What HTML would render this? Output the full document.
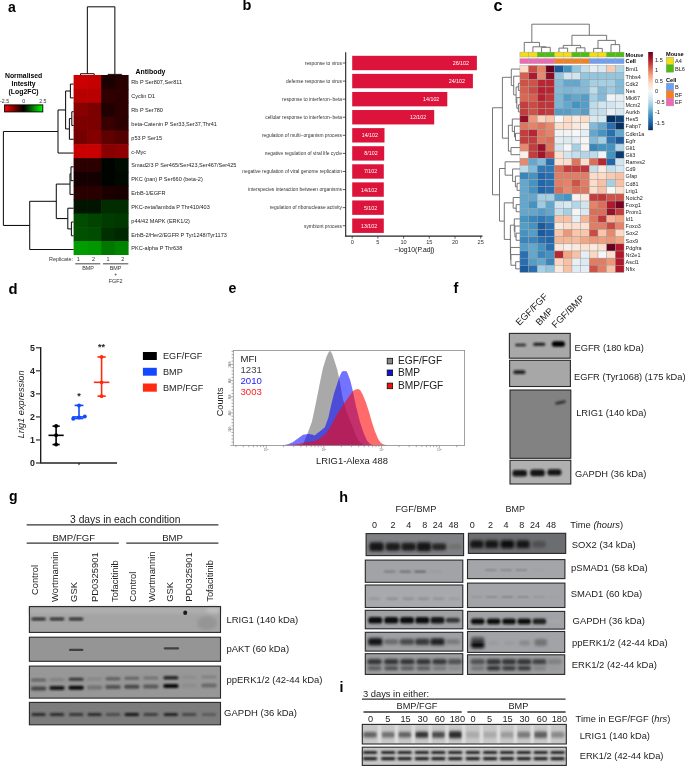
<!DOCTYPE html>
<html><head><meta charset="utf-8"><style>
html,body{margin:0;padding:0;background:#fff;width:685px;height:766px;overflow:hidden}
svg{display:block;will-change:transform}
text{font-family:"Liberation Sans",sans-serif}
</style></head><body>
<svg width="685" height="766" viewBox="0 0 685 766">
<defs>
<filter id="bl1" x="-50%" y="-50%" width="200%" height="200%"><feGaussianBlur stdDeviation="0.9"/></filter>
<filter id="bl2" x="-50%" y="-50%" width="200%" height="200%"><feGaussianBlur stdDeviation="1.5"/></filter>
<filter id="bl05" x="-50%" y="-50%" width="200%" height="200%"><feGaussianBlur stdDeviation="0.55"/></filter>
</defs>
<text x="7.90" y="12.40" font-size="14" text-anchor="start" fill="#000" font-weight="bold" >a</text>
<rect x="73.60" y="75.00" width="14.35" height="14.45" fill="#CC0000" />
<rect x="87.35" y="75.00" width="14.35" height="14.45" fill="#C40000" />
<rect x="101.10" y="75.00" width="14.35" height="14.45" fill="#1A0000" />
<rect x="114.85" y="75.00" width="13.75" height="14.45" fill="#280000" />
<rect x="73.60" y="88.85" width="14.35" height="14.45" fill="#B80000" />
<rect x="87.35" y="88.85" width="14.35" height="14.45" fill="#B80000" />
<rect x="101.10" y="88.85" width="14.35" height="14.45" fill="#300000" />
<rect x="114.85" y="88.85" width="13.75" height="14.45" fill="#2C0000" />
<rect x="73.60" y="102.69" width="14.35" height="14.45" fill="#880000" />
<rect x="87.35" y="102.69" width="14.35" height="14.45" fill="#7C0000" />
<rect x="101.10" y="102.69" width="14.35" height="14.45" fill="#200000" />
<rect x="114.85" y="102.69" width="13.75" height="14.45" fill="#2C0000" />
<rect x="73.60" y="116.54" width="14.35" height="14.45" fill="#7C0000" />
<rect x="87.35" y="116.54" width="14.35" height="14.45" fill="#7C0000" />
<rect x="101.10" y="116.54" width="14.35" height="14.45" fill="#380000" />
<rect x="114.85" y="116.54" width="13.75" height="14.45" fill="#2C0000" />
<rect x="73.60" y="130.38" width="14.35" height="14.45" fill="#740000" />
<rect x="87.35" y="130.38" width="14.35" height="14.45" fill="#840000" />
<rect x="101.10" y="130.38" width="14.35" height="14.45" fill="#600000" />
<rect x="114.85" y="130.38" width="13.75" height="14.45" fill="#540000" />
<rect x="73.60" y="144.23" width="14.35" height="14.45" fill="#C80000" />
<rect x="87.35" y="144.23" width="14.35" height="14.45" fill="#C80000" />
<rect x="101.10" y="144.23" width="14.35" height="14.45" fill="#880000" />
<rect x="114.85" y="144.23" width="13.75" height="14.45" fill="#900000" />
<rect x="73.60" y="158.08" width="14.35" height="14.45" fill="#2C0000" />
<rect x="87.35" y="158.08" width="14.35" height="14.45" fill="#2C0000" />
<rect x="101.10" y="158.08" width="14.35" height="14.45" fill="#000400" />
<rect x="114.85" y="158.08" width="13.75" height="14.45" fill="#000C00" />
<rect x="73.60" y="171.92" width="14.35" height="14.45" fill="#140000" />
<rect x="87.35" y="171.92" width="14.35" height="14.45" fill="#140000" />
<rect x="101.10" y="171.92" width="14.35" height="14.45" fill="#000400" />
<rect x="114.85" y="171.92" width="13.75" height="14.45" fill="#000800" />
<rect x="73.60" y="185.77" width="14.35" height="14.45" fill="#280000" />
<rect x="87.35" y="185.77" width="14.35" height="14.45" fill="#280000" />
<rect x="101.10" y="185.77" width="14.35" height="14.45" fill="#1C0000" />
<rect x="114.85" y="185.77" width="13.75" height="14.45" fill="#180000" />
<rect x="73.60" y="199.62" width="14.35" height="14.45" fill="#001400" />
<rect x="87.35" y="199.62" width="14.35" height="14.45" fill="#001400" />
<rect x="101.10" y="199.62" width="14.35" height="14.45" fill="#002C00" />
<rect x="114.85" y="199.62" width="13.75" height="14.45" fill="#002C00" />
<rect x="73.60" y="213.46" width="14.35" height="14.45" fill="#004C00" />
<rect x="87.35" y="213.46" width="14.35" height="14.45" fill="#004400" />
<rect x="101.10" y="213.46" width="14.35" height="14.45" fill="#003C00" />
<rect x="114.85" y="213.46" width="13.75" height="14.45" fill="#003800" />
<rect x="73.60" y="227.31" width="14.35" height="14.45" fill="#005000" />
<rect x="87.35" y="227.31" width="14.35" height="14.45" fill="#004C00" />
<rect x="101.10" y="227.31" width="14.35" height="14.45" fill="#003000" />
<rect x="114.85" y="227.31" width="13.75" height="14.45" fill="#002800" />
<rect x="73.60" y="241.15" width="14.35" height="13.85" fill="#009C00" />
<rect x="87.35" y="241.15" width="14.35" height="13.85" fill="#009800" />
<rect x="101.10" y="241.15" width="14.35" height="13.85" fill="#007800" />
<rect x="114.85" y="241.15" width="13.75" height="13.85" fill="#008400" />
<text x="131.30" y="84.32" font-size="5.55" text-anchor="start" fill="#222" >Rb P Ser807,Ser811</text>
<text x="131.30" y="98.17" font-size="5.55" text-anchor="start" fill="#222" >Cyclin D1</text>
<text x="131.30" y="112.02" font-size="5.55" text-anchor="start" fill="#222" >Rb P Ser780</text>
<text x="131.30" y="125.86" font-size="5.55" text-anchor="start" fill="#222" >beta-Catenin P Ser33,Ser37,Thr41</text>
<text x="131.30" y="139.71" font-size="5.55" text-anchor="start" fill="#222" >p53 P Ser15</text>
<text x="131.30" y="153.55" font-size="5.55" text-anchor="start" fill="#222" >c-Myc</text>
<text x="131.30" y="167.40" font-size="5.55" text-anchor="start" fill="#222" >Smad2/3 P Ser465/Ser423,Ser467/Ser425</text>
<text x="131.30" y="181.25" font-size="5.55" text-anchor="start" fill="#222" >PKC (pan) P Ser660 (beta-2)</text>
<text x="131.30" y="195.09" font-size="5.55" text-anchor="start" fill="#222" >ErbB-1/EGFR</text>
<text x="131.30" y="208.94" font-size="5.55" text-anchor="start" fill="#222" >PKC-zeta/lambda P Thr410/403</text>
<text x="131.30" y="222.78" font-size="5.55" text-anchor="start" fill="#222" >p44/42 MAPK (ERK1/2)</text>
<text x="131.30" y="236.63" font-size="5.55" text-anchor="start" fill="#222" >ErbB-2/Her2/EGFR P Tyr1248/Tyr1173</text>
<text x="131.30" y="250.48" font-size="5.55" text-anchor="start" fill="#222" >PKC-alpha P Thr638</text>
<text x="135.60" y="73.80" font-size="6.9" text-anchor="start" fill="#000" font-weight="bold" >Antibody</text>
<line x1="70.40" y1="84.10" x2="70.40" y2="97.89" stroke="#111" stroke-width="1.05"/>
<line x1="70.40" y1="84.10" x2="73.60" y2="84.10" stroke="#111" stroke-width="1.05"/>
<line x1="70.40" y1="97.89" x2="73.60" y2="97.89" stroke="#111" stroke-width="1.05"/>
<line x1="71.80" y1="111.68" x2="71.80" y2="125.47" stroke="#111" stroke-width="1.05"/>
<line x1="71.80" y1="111.68" x2="73.60" y2="111.68" stroke="#111" stroke-width="1.05"/>
<line x1="71.80" y1="125.47" x2="73.60" y2="125.47" stroke="#111" stroke-width="1.05"/>
<line x1="69.40" y1="118.57" x2="69.40" y2="139.26" stroke="#111" stroke-width="1.05"/>
<line x1="69.40" y1="118.57" x2="71.80" y2="118.57" stroke="#111" stroke-width="1.05"/>
<line x1="69.40" y1="139.26" x2="73.60" y2="139.26" stroke="#111" stroke-width="1.05"/>
<line x1="65.60" y1="90.99" x2="65.60" y2="128.92" stroke="#111" stroke-width="1.05"/>
<line x1="65.60" y1="90.99" x2="70.40" y2="90.99" stroke="#111" stroke-width="1.05"/>
<line x1="65.60" y1="128.92" x2="69.40" y2="128.92" stroke="#111" stroke-width="1.05"/>
<line x1="58.00" y1="109.96" x2="58.00" y2="153.05" stroke="#111" stroke-width="1.05"/>
<line x1="58.00" y1="109.96" x2="65.60" y2="109.96" stroke="#111" stroke-width="1.05"/>
<line x1="58.00" y1="153.05" x2="73.60" y2="153.05" stroke="#111" stroke-width="1.05"/>
<line x1="71.00" y1="166.84" x2="71.00" y2="180.63" stroke="#111" stroke-width="1.05"/>
<line x1="71.00" y1="166.84" x2="73.60" y2="166.84" stroke="#111" stroke-width="1.05"/>
<line x1="71.00" y1="180.63" x2="73.60" y2="180.63" stroke="#111" stroke-width="1.05"/>
<line x1="70.00" y1="173.73" x2="70.00" y2="194.42" stroke="#111" stroke-width="1.05"/>
<line x1="70.00" y1="173.73" x2="71.00" y2="173.73" stroke="#111" stroke-width="1.05"/>
<line x1="70.00" y1="194.42" x2="73.60" y2="194.42" stroke="#111" stroke-width="1.05"/>
<line x1="71.40" y1="222.00" x2="71.40" y2="235.79" stroke="#111" stroke-width="1.05"/>
<line x1="71.40" y1="222.00" x2="73.60" y2="222.00" stroke="#111" stroke-width="1.05"/>
<line x1="71.40" y1="235.79" x2="73.60" y2="235.79" stroke="#111" stroke-width="1.05"/>
<line x1="67.80" y1="208.21" x2="67.80" y2="228.89" stroke="#111" stroke-width="1.05"/>
<line x1="67.80" y1="208.21" x2="73.60" y2="208.21" stroke="#111" stroke-width="1.05"/>
<line x1="67.80" y1="228.89" x2="71.40" y2="228.89" stroke="#111" stroke-width="1.05"/>
<line x1="56.30" y1="184.08" x2="56.30" y2="218.55" stroke="#111" stroke-width="1.05"/>
<line x1="56.30" y1="184.08" x2="70.00" y2="184.08" stroke="#111" stroke-width="1.05"/>
<line x1="56.30" y1="218.55" x2="67.80" y2="218.55" stroke="#111" stroke-width="1.05"/>
<line x1="29.70" y1="201.31" x2="29.70" y2="249.58" stroke="#111" stroke-width="1.05"/>
<line x1="29.70" y1="201.31" x2="56.30" y2="201.31" stroke="#111" stroke-width="1.05"/>
<line x1="29.70" y1="249.58" x2="73.60" y2="249.58" stroke="#111" stroke-width="1.05"/>
<line x1="3.40" y1="131.50" x2="3.40" y2="225.45" stroke="#111" stroke-width="1.05"/>
<line x1="3.40" y1="131.50" x2="58.00" y2="131.50" stroke="#111" stroke-width="1.05"/>
<line x1="3.40" y1="225.45" x2="29.70" y2="225.45" stroke="#111" stroke-width="1.05"/>
<line x1="80.47" y1="73.70" x2="94.22" y2="73.70" stroke="#111" stroke-width="1.05"/>
<line x1="80.47" y1="73.70" x2="80.47" y2="75.00" stroke="#111" stroke-width="1.05"/>
<line x1="94.22" y1="73.70" x2="94.22" y2="75.00" stroke="#111" stroke-width="1.05"/>
<line x1="107.97" y1="74.40" x2="121.72" y2="74.40" stroke="#111" stroke-width="1.05"/>
<line x1="107.97" y1="74.40" x2="107.97" y2="75.00" stroke="#111" stroke-width="1.05"/>
<line x1="121.72" y1="74.40" x2="121.72" y2="75.00" stroke="#111" stroke-width="1.05"/>
<line x1="87.35" y1="6.80" x2="114.85" y2="6.80" stroke="#111" stroke-width="1.05"/>
<line x1="87.35" y1="6.80" x2="87.35" y2="73.70" stroke="#111" stroke-width="1.05"/>
<line x1="114.85" y1="6.80" x2="114.85" y2="74.40" stroke="#111" stroke-width="1.05"/>
<text x="23.60" y="77.60" font-size="6.85" text-anchor="middle" fill="#000" font-weight="bold" >Normalised</text>
<text x="23.60" y="86.00" font-size="6.85" text-anchor="middle" fill="#000" font-weight="bold" >Intesity</text>
<text x="23.60" y="94.30" font-size="6.85" text-anchor="middle" fill="#000" font-weight="bold" >(Log2FC)</text>
<defs><linearGradient id="rg" x1="0" x2="1" y1="0" y2="0"><stop offset="0" stop-color="#FF0000"/><stop offset="0.5" stop-color="#000000"/><stop offset="1" stop-color="#00FF00"/></linearGradient></defs>
<rect x="4.60" y="104.90" width="38.20" height="7.00" fill="url(#rg)" stroke="#000" stroke-width="0.9" />
<text x="4.60" y="103.20" font-size="5.2" text-anchor="middle" fill="#333" >-2.5</text>
<text x="23.60" y="103.20" font-size="5.2" text-anchor="middle" fill="#333" >0</text>
<text x="42.90" y="103.20" font-size="5.2" text-anchor="middle" fill="#333" >2.5</text>
<text x="73.00" y="261.20" font-size="5.4" text-anchor="end" fill="#333" >Replicate:</text>
<text x="78.30" y="261.20" font-size="5.4" text-anchor="middle" fill="#333" >1</text>
<text x="93.50" y="261.20" font-size="5.4" text-anchor="middle" fill="#333" >2</text>
<text x="107.90" y="261.20" font-size="5.4" text-anchor="middle" fill="#333" >1</text>
<text x="122.80" y="261.20" font-size="5.4" text-anchor="middle" fill="#333" >2</text>
<line x1="75.20" y1="263.80" x2="100.30" y2="263.80" stroke="#555" stroke-width="1.1"/>
<line x1="103.00" y1="263.80" x2="128.30" y2="263.80" stroke="#555" stroke-width="1.1"/>
<text x="88.00" y="270.40" font-size="5.4" text-anchor="middle" fill="#333" >BMP</text>
<text x="115.60" y="270.40" font-size="5.4" text-anchor="middle" fill="#333" >BMP</text>
<text x="115.60" y="276.20" font-size="5.0" text-anchor="middle" fill="#333" >+</text>
<text x="115.60" y="283.00" font-size="5.4" text-anchor="middle" fill="#333" >FGF2</text>
<text x="242.60" y="10.20" font-size="14.5" text-anchor="start" fill="#000" font-weight="bold" >b</text>
<rect x="352.20" y="55.80" width="124.70" height="14.40" fill="#DC143C" />
<text x="468.90" y="65.00" font-size="5.3" text-anchor="end" fill="#fff" >26/102</text>
<text x="342.00" y="64.80" font-size="4.9" text-anchor="end" fill="#333" >response to virus</text>
<line x1="342.70" y1="63.00" x2="345.70" y2="63.00" stroke="#333" stroke-width="0.8"/>
<rect x="352.20" y="73.88" width="120.70" height="14.40" fill="#DC143C" />
<text x="464.90" y="83.08" font-size="5.3" text-anchor="end" fill="#fff" >24/102</text>
<text x="342.00" y="82.88" font-size="4.9" text-anchor="end" fill="#333" >defense response to virus</text>
<line x1="342.70" y1="81.08" x2="345.70" y2="81.08" stroke="#333" stroke-width="0.8"/>
<rect x="352.20" y="91.96" width="95.10" height="14.40" fill="#DC143C" />
<text x="439.30" y="101.16" font-size="5.3" text-anchor="end" fill="#fff" >14/102</text>
<text x="342.00" y="100.96" font-size="4.9" text-anchor="end" fill="#333" >response to interferon−beta</text>
<line x1="342.70" y1="99.16" x2="345.70" y2="99.16" stroke="#333" stroke-width="0.8"/>
<rect x="352.20" y="110.04" width="82.00" height="14.40" fill="#DC143C" />
<text x="426.20" y="119.24" font-size="5.3" text-anchor="end" fill="#fff" >12/102</text>
<text x="342.00" y="119.04" font-size="4.9" text-anchor="end" fill="#333" >cellular response to interferon−beta</text>
<line x1="342.70" y1="117.24" x2="345.70" y2="117.24" stroke="#333" stroke-width="0.8"/>
<rect x="352.20" y="128.12" width="32.30" height="14.40" fill="#DC143C" />
<text x="377.90" y="137.32" font-size="5.3" text-anchor="end" fill="#fff" >14/102</text>
<text x="342.00" y="137.12" font-size="4.9" text-anchor="end" fill="#333" >regulation of multi−organism process</text>
<line x1="342.70" y1="135.32" x2="345.70" y2="135.32" stroke="#333" stroke-width="0.8"/>
<rect x="352.20" y="146.20" width="32.00" height="14.40" fill="#DC143C" />
<text x="377.60" y="155.40" font-size="5.3" text-anchor="end" fill="#fff" >8/102</text>
<text x="342.00" y="155.20" font-size="4.9" text-anchor="end" fill="#333" >negative regulation of viral life cycle</text>
<line x1="342.70" y1="153.40" x2="345.70" y2="153.40" stroke="#333" stroke-width="0.8"/>
<rect x="352.20" y="164.28" width="31.60" height="14.40" fill="#DC143C" />
<text x="377.20" y="173.48" font-size="5.3" text-anchor="end" fill="#fff" >7/102</text>
<text x="342.00" y="173.28" font-size="4.9" text-anchor="end" fill="#333" >negative regulation of viral genome replication</text>
<line x1="342.70" y1="171.48" x2="345.70" y2="171.48" stroke="#333" stroke-width="0.8"/>
<rect x="352.20" y="182.36" width="31.60" height="14.40" fill="#DC143C" />
<text x="377.20" y="191.56" font-size="5.3" text-anchor="end" fill="#fff" >14/102</text>
<text x="342.00" y="191.36" font-size="4.9" text-anchor="end" fill="#333" >interspecies interaction between organisms</text>
<line x1="342.70" y1="189.56" x2="345.70" y2="189.56" stroke="#333" stroke-width="0.8"/>
<rect x="352.20" y="200.44" width="31.60" height="14.40" fill="#DC143C" />
<text x="377.20" y="209.64" font-size="5.3" text-anchor="end" fill="#fff" >5/102</text>
<text x="342.00" y="209.44" font-size="4.9" text-anchor="end" fill="#333" >regulation of ribonuclease activity</text>
<line x1="342.70" y1="207.64" x2="345.70" y2="207.64" stroke="#333" stroke-width="0.8"/>
<rect x="352.20" y="218.52" width="31.60" height="14.40" fill="#DC143C" />
<text x="377.20" y="227.72" font-size="5.3" text-anchor="end" fill="#fff" >13/102</text>
<text x="342.00" y="227.52" font-size="4.9" text-anchor="end" fill="#333" >symbiont process</text>
<line x1="342.70" y1="225.72" x2="345.70" y2="225.72" stroke="#333" stroke-width="0.8"/>
<line x1="345.70" y1="52.30" x2="345.70" y2="236.50" stroke="#222" stroke-width="1.1"/>
<line x1="345.20" y1="236.10" x2="482.50" y2="236.10" stroke="#222" stroke-width="1.1"/>
<line x1="352.20" y1="236.00" x2="352.20" y2="238.60" stroke="#333" stroke-width="0.8"/>
<text x="352.20" y="243.80" font-size="5.6" text-anchor="middle" fill="#333" >0</text>
<line x1="377.90" y1="236.00" x2="377.90" y2="238.60" stroke="#333" stroke-width="0.8"/>
<text x="377.90" y="243.80" font-size="5.6" text-anchor="middle" fill="#333" >5</text>
<line x1="403.60" y1="236.00" x2="403.60" y2="238.60" stroke="#333" stroke-width="0.8"/>
<text x="403.60" y="243.80" font-size="5.6" text-anchor="middle" fill="#333" >10</text>
<line x1="429.30" y1="236.00" x2="429.30" y2="238.60" stroke="#333" stroke-width="0.8"/>
<text x="429.30" y="243.80" font-size="5.6" text-anchor="middle" fill="#333" >15</text>
<line x1="455.00" y1="236.00" x2="455.00" y2="238.60" stroke="#333" stroke-width="0.8"/>
<text x="455.00" y="243.80" font-size="5.6" text-anchor="middle" fill="#333" >20</text>
<line x1="480.70" y1="236.00" x2="480.70" y2="238.60" stroke="#333" stroke-width="0.8"/>
<text x="480.70" y="243.80" font-size="5.6" text-anchor="middle" fill="#333" >25</text>
<text x="414.40" y="251.50" font-size="6.8" text-anchor="middle" fill="#111" >−log10(P.adj)</text>
<text x="493.40" y="11.20" font-size="16.2" text-anchor="start" fill="#000" font-weight="bold" >c</text>
<rect x="519.90" y="52.10" width="8.68" height="4.90" fill="#F3DD14" stroke="#999" stroke-width="0.4" />
<rect x="519.90" y="58.70" width="8.68" height="4.90" fill="#F068B4" stroke="#999" stroke-width="0.4" />
<rect x="528.57" y="52.10" width="8.68" height="4.90" fill="#F3DD14" stroke="#999" stroke-width="0.4" />
<rect x="528.57" y="58.70" width="8.68" height="4.90" fill="#F068B4" stroke="#999" stroke-width="0.4" />
<rect x="537.25" y="52.10" width="8.68" height="4.90" fill="#4DBE0E" stroke="#999" stroke-width="0.4" />
<rect x="537.25" y="58.70" width="8.68" height="4.90" fill="#F068B4" stroke="#999" stroke-width="0.4" />
<rect x="545.92" y="52.10" width="8.68" height="4.90" fill="#4DBE0E" stroke="#999" stroke-width="0.4" />
<rect x="545.92" y="58.70" width="8.68" height="4.90" fill="#F068B4" stroke="#999" stroke-width="0.4" />
<rect x="554.60" y="52.10" width="8.68" height="4.90" fill="#F3DD14" stroke="#999" stroke-width="0.4" />
<rect x="554.60" y="58.70" width="8.68" height="4.90" fill="#F8801C" stroke="#999" stroke-width="0.4" />
<rect x="563.27" y="52.10" width="8.68" height="4.90" fill="#F3DD14" stroke="#999" stroke-width="0.4" />
<rect x="563.27" y="58.70" width="8.68" height="4.90" fill="#F8801C" stroke="#999" stroke-width="0.4" />
<rect x="571.95" y="52.10" width="8.68" height="4.90" fill="#4DBE0E" stroke="#999" stroke-width="0.4" />
<rect x="571.95" y="58.70" width="8.68" height="4.90" fill="#F8801C" stroke="#999" stroke-width="0.4" />
<rect x="580.62" y="52.10" width="8.68" height="4.90" fill="#4DBE0E" stroke="#999" stroke-width="0.4" />
<rect x="580.62" y="58.70" width="8.68" height="4.90" fill="#F8801C" stroke="#999" stroke-width="0.4" />
<rect x="589.30" y="52.10" width="8.68" height="4.90" fill="#F3DD14" stroke="#999" stroke-width="0.4" />
<rect x="589.30" y="58.70" width="8.68" height="4.90" fill="#6E9EF5" stroke="#999" stroke-width="0.4" />
<rect x="597.98" y="52.10" width="8.68" height="4.90" fill="#F3DD14" stroke="#999" stroke-width="0.4" />
<rect x="597.98" y="58.70" width="8.68" height="4.90" fill="#6E9EF5" stroke="#999" stroke-width="0.4" />
<rect x="606.65" y="52.10" width="8.68" height="4.90" fill="#4DBE0E" stroke="#999" stroke-width="0.4" />
<rect x="606.65" y="58.70" width="8.68" height="4.90" fill="#6E9EF5" stroke="#999" stroke-width="0.4" />
<rect x="615.33" y="52.10" width="8.68" height="4.90" fill="#4DBE0E" stroke="#999" stroke-width="0.4" />
<rect x="615.33" y="58.70" width="8.68" height="4.90" fill="#6E9EF5" stroke="#999" stroke-width="0.4" />
<rect x="519.90" y="65.50" width="8.68" height="7.13" fill="#FDDBC7" stroke="#9a9a9a" stroke-width="0.4" />
<rect x="528.57" y="65.50" width="8.68" height="7.13" fill="#CB4A43" stroke="#9a9a9a" stroke-width="0.4" />
<rect x="537.25" y="65.50" width="8.68" height="7.13" fill="#E58268" stroke="#9a9a9a" stroke-width="0.4" />
<rect x="545.92" y="65.50" width="8.68" height="7.13" fill="#67001F" stroke="#9a9a9a" stroke-width="0.4" />
<rect x="554.60" y="65.50" width="8.68" height="7.13" fill="#1B5B9D" stroke="#9a9a9a" stroke-width="0.4" />
<rect x="563.27" y="65.50" width="8.68" height="7.13" fill="#4393C3" stroke="#9a9a9a" stroke-width="0.4" />
<rect x="571.95" y="65.50" width="8.68" height="7.13" fill="#92C5DE" stroke="#9a9a9a" stroke-width="0.4" />
<rect x="580.62" y="65.50" width="8.68" height="7.13" fill="#C4DFEC" stroke="#9a9a9a" stroke-width="0.4" />
<rect x="589.30" y="65.50" width="8.68" height="7.13" fill="#E4EEF4" stroke="#9a9a9a" stroke-width="0.4" />
<rect x="597.98" y="65.50" width="8.68" height="7.13" fill="#D9E9F1" stroke="#9a9a9a" stroke-width="0.4" />
<rect x="606.65" y="65.50" width="8.68" height="7.13" fill="#FACBB2" stroke="#9a9a9a" stroke-width="0.4" />
<rect x="615.33" y="65.50" width="8.68" height="7.13" fill="#B2D5E7" stroke="#9a9a9a" stroke-width="0.4" />
<rect x="519.90" y="72.64" width="8.68" height="7.13" fill="#D6604D" stroke="#9a9a9a" stroke-width="0.4" />
<rect x="528.57" y="72.64" width="8.68" height="7.13" fill="#B2182B" stroke="#9a9a9a" stroke-width="0.4" />
<rect x="537.25" y="72.64" width="8.68" height="7.13" fill="#E8896D" stroke="#9a9a9a" stroke-width="0.4" />
<rect x="545.92" y="72.64" width="8.68" height="7.13" fill="#8C0C25" stroke="#9a9a9a" stroke-width="0.4" />
<rect x="554.60" y="72.64" width="8.68" height="7.13" fill="#92C5DE" stroke="#9a9a9a" stroke-width="0.4" />
<rect x="563.27" y="72.64" width="8.68" height="7.13" fill="#D1E5F0" stroke="#9a9a9a" stroke-width="0.4" />
<rect x="571.95" y="72.64" width="8.68" height="7.13" fill="#D1E5F0" stroke="#9a9a9a" stroke-width="0.4" />
<rect x="580.62" y="72.64" width="8.68" height="7.13" fill="#92C5DE" stroke="#9a9a9a" stroke-width="0.4" />
<rect x="589.30" y="72.64" width="8.68" height="7.13" fill="#92C5DE" stroke="#9a9a9a" stroke-width="0.4" />
<rect x="597.98" y="72.64" width="8.68" height="7.13" fill="#92C5DE" stroke="#9a9a9a" stroke-width="0.4" />
<rect x="606.65" y="72.64" width="8.68" height="7.13" fill="#92C5DE" stroke="#9a9a9a" stroke-width="0.4" />
<rect x="615.33" y="72.64" width="8.68" height="7.13" fill="#92C5DE" stroke="#9a9a9a" stroke-width="0.4" />
<rect x="519.90" y="79.77" width="8.68" height="7.13" fill="#CF5246" stroke="#9a9a9a" stroke-width="0.4" />
<rect x="528.57" y="79.77" width="8.68" height="7.13" fill="#CF5246" stroke="#9a9a9a" stroke-width="0.4" />
<rect x="537.25" y="79.77" width="8.68" height="7.13" fill="#B92632" stroke="#9a9a9a" stroke-width="0.4" />
<rect x="545.92" y="79.77" width="8.68" height="7.13" fill="#B92632" stroke="#9a9a9a" stroke-width="0.4" />
<rect x="554.60" y="79.77" width="8.68" height="7.13" fill="#82BBD9" stroke="#9a9a9a" stroke-width="0.4" />
<rect x="563.27" y="79.77" width="8.68" height="7.13" fill="#63A7CE" stroke="#9a9a9a" stroke-width="0.4" />
<rect x="571.95" y="79.77" width="8.68" height="7.13" fill="#63A7CE" stroke="#9a9a9a" stroke-width="0.4" />
<rect x="580.62" y="79.77" width="8.68" height="7.13" fill="#82BBD9" stroke="#9a9a9a" stroke-width="0.4" />
<rect x="589.30" y="79.77" width="8.68" height="7.13" fill="#A5CFE3" stroke="#9a9a9a" stroke-width="0.4" />
<rect x="597.98" y="79.77" width="8.68" height="7.13" fill="#A5CFE3" stroke="#9a9a9a" stroke-width="0.4" />
<rect x="606.65" y="79.77" width="8.68" height="7.13" fill="#A5CFE3" stroke="#9a9a9a" stroke-width="0.4" />
<rect x="615.33" y="79.77" width="8.68" height="7.13" fill="#82BBD9" stroke="#9a9a9a" stroke-width="0.4" />
<rect x="519.90" y="86.91" width="8.68" height="7.13" fill="#D6604D" stroke="#9a9a9a" stroke-width="0.4" />
<rect x="528.57" y="86.91" width="8.68" height="7.13" fill="#CB4A43" stroke="#9a9a9a" stroke-width="0.4" />
<rect x="537.25" y="86.91" width="8.68" height="7.13" fill="#B61F2E" stroke="#9a9a9a" stroke-width="0.4" />
<rect x="545.92" y="86.91" width="8.68" height="7.13" fill="#B92632" stroke="#9a9a9a" stroke-width="0.4" />
<rect x="554.60" y="86.91" width="8.68" height="7.13" fill="#82BBD9" stroke="#9a9a9a" stroke-width="0.4" />
<rect x="563.27" y="86.91" width="8.68" height="7.13" fill="#7AB6D6" stroke="#9a9a9a" stroke-width="0.4" />
<rect x="571.95" y="86.91" width="8.68" height="7.13" fill="#82BBD9" stroke="#9a9a9a" stroke-width="0.4" />
<rect x="580.62" y="86.91" width="8.68" height="7.13" fill="#82BBD9" stroke="#9a9a9a" stroke-width="0.4" />
<rect x="589.30" y="86.91" width="8.68" height="7.13" fill="#BEDBEB" stroke="#9a9a9a" stroke-width="0.4" />
<rect x="597.98" y="86.91" width="8.68" height="7.13" fill="#82BBD9" stroke="#9a9a9a" stroke-width="0.4" />
<rect x="606.65" y="86.91" width="8.68" height="7.13" fill="#9FCBE2" stroke="#9a9a9a" stroke-width="0.4" />
<rect x="615.33" y="86.91" width="8.68" height="7.13" fill="#82BBD9" stroke="#9a9a9a" stroke-width="0.4" />
<rect x="519.90" y="94.04" width="8.68" height="7.13" fill="#D96752" stroke="#9a9a9a" stroke-width="0.4" />
<rect x="528.57" y="94.04" width="8.68" height="7.13" fill="#D6604D" stroke="#9a9a9a" stroke-width="0.4" />
<rect x="537.25" y="94.04" width="8.68" height="7.13" fill="#B61F2E" stroke="#9a9a9a" stroke-width="0.4" />
<rect x="545.92" y="94.04" width="8.68" height="7.13" fill="#C03539" stroke="#9a9a9a" stroke-width="0.4" />
<rect x="554.60" y="94.04" width="8.68" height="7.13" fill="#7AB6D6" stroke="#9a9a9a" stroke-width="0.4" />
<rect x="563.27" y="94.04" width="8.68" height="7.13" fill="#539DC8" stroke="#9a9a9a" stroke-width="0.4" />
<rect x="571.95" y="94.04" width="8.68" height="7.13" fill="#63A7CE" stroke="#9a9a9a" stroke-width="0.4" />
<rect x="580.62" y="94.04" width="8.68" height="7.13" fill="#539DC8" stroke="#9a9a9a" stroke-width="0.4" />
<rect x="589.30" y="94.04" width="8.68" height="7.13" fill="#A5CFE3" stroke="#9a9a9a" stroke-width="0.4" />
<rect x="597.98" y="94.04" width="8.68" height="7.13" fill="#82BBD9" stroke="#9a9a9a" stroke-width="0.4" />
<rect x="606.65" y="94.04" width="8.68" height="7.13" fill="#EFF3F6" stroke="#9a9a9a" stroke-width="0.4" />
<rect x="615.33" y="94.04" width="8.68" height="7.13" fill="#E4EEF4" stroke="#9a9a9a" stroke-width="0.4" />
<rect x="519.90" y="101.17" width="8.68" height="7.13" fill="#C43C3C" stroke="#9a9a9a" stroke-width="0.4" />
<rect x="528.57" y="101.17" width="8.68" height="7.13" fill="#CB4A43" stroke="#9a9a9a" stroke-width="0.4" />
<rect x="537.25" y="101.17" width="8.68" height="7.13" fill="#C03539" stroke="#9a9a9a" stroke-width="0.4" />
<rect x="545.92" y="101.17" width="8.68" height="7.13" fill="#C03539" stroke="#9a9a9a" stroke-width="0.4" />
<rect x="554.60" y="101.17" width="8.68" height="7.13" fill="#7AB6D6" stroke="#9a9a9a" stroke-width="0.4" />
<rect x="563.27" y="101.17" width="8.68" height="7.13" fill="#63A7CE" stroke="#9a9a9a" stroke-width="0.4" />
<rect x="571.95" y="101.17" width="8.68" height="7.13" fill="#4393C3" stroke="#9a9a9a" stroke-width="0.4" />
<rect x="580.62" y="101.17" width="8.68" height="7.13" fill="#539DC8" stroke="#9a9a9a" stroke-width="0.4" />
<rect x="589.30" y="101.17" width="8.68" height="7.13" fill="#BEDBEB" stroke="#9a9a9a" stroke-width="0.4" />
<rect x="597.98" y="101.17" width="8.68" height="7.13" fill="#D1E5F0" stroke="#9a9a9a" stroke-width="0.4" />
<rect x="606.65" y="101.17" width="8.68" height="7.13" fill="#D1E5F0" stroke="#9a9a9a" stroke-width="0.4" />
<rect x="615.33" y="101.17" width="8.68" height="7.13" fill="#E0ECF3" stroke="#9a9a9a" stroke-width="0.4" />
<rect x="519.90" y="108.31" width="8.68" height="7.13" fill="#C43C3C" stroke="#9a9a9a" stroke-width="0.4" />
<rect x="528.57" y="108.31" width="8.68" height="7.13" fill="#CF5246" stroke="#9a9a9a" stroke-width="0.4" />
<rect x="537.25" y="108.31" width="8.68" height="7.13" fill="#C03539" stroke="#9a9a9a" stroke-width="0.4" />
<rect x="545.92" y="108.31" width="8.68" height="7.13" fill="#C43C3C" stroke="#9a9a9a" stroke-width="0.4" />
<rect x="554.60" y="108.31" width="8.68" height="7.13" fill="#539DC8" stroke="#9a9a9a" stroke-width="0.4" />
<rect x="563.27" y="108.31" width="8.68" height="7.13" fill="#539DC8" stroke="#9a9a9a" stroke-width="0.4" />
<rect x="571.95" y="108.31" width="8.68" height="7.13" fill="#63A7CE" stroke="#9a9a9a" stroke-width="0.4" />
<rect x="580.62" y="108.31" width="8.68" height="7.13" fill="#539DC8" stroke="#9a9a9a" stroke-width="0.4" />
<rect x="589.30" y="108.31" width="8.68" height="7.13" fill="#C4DFEC" stroke="#9a9a9a" stroke-width="0.4" />
<rect x="597.98" y="108.31" width="8.68" height="7.13" fill="#C4DFEC" stroke="#9a9a9a" stroke-width="0.4" />
<rect x="606.65" y="108.31" width="8.68" height="7.13" fill="#E8F0F4" stroke="#9a9a9a" stroke-width="0.4" />
<rect x="615.33" y="108.31" width="8.68" height="7.13" fill="#D5E7F1" stroke="#9a9a9a" stroke-width="0.4" />
<rect x="519.90" y="115.44" width="8.68" height="7.13" fill="#940E26" stroke="#9a9a9a" stroke-width="0.4" />
<rect x="528.57" y="115.44" width="8.68" height="7.13" fill="#EE9777" stroke="#9a9a9a" stroke-width="0.4" />
<rect x="537.25" y="115.44" width="8.68" height="7.13" fill="#FCD6C0" stroke="#9a9a9a" stroke-width="0.4" />
<rect x="545.92" y="115.44" width="8.68" height="7.13" fill="#F9C5AB" stroke="#9a9a9a" stroke-width="0.4" />
<rect x="554.60" y="115.44" width="8.68" height="7.13" fill="#F7F7F7" stroke="#9a9a9a" stroke-width="0.4" />
<rect x="563.27" y="115.44" width="8.68" height="7.13" fill="#FDDBC7" stroke="#9a9a9a" stroke-width="0.4" />
<rect x="571.95" y="115.44" width="8.68" height="7.13" fill="#FAE9DF" stroke="#9a9a9a" stroke-width="0.4" />
<rect x="580.62" y="115.44" width="8.68" height="7.13" fill="#FDDBC7" stroke="#9a9a9a" stroke-width="0.4" />
<rect x="589.30" y="115.44" width="8.68" height="7.13" fill="#D9E9F1" stroke="#9a9a9a" stroke-width="0.4" />
<rect x="597.98" y="115.44" width="8.68" height="7.13" fill="#D9E9F1" stroke="#9a9a9a" stroke-width="0.4" />
<rect x="606.65" y="115.44" width="8.68" height="7.13" fill="#053061" stroke="#9a9a9a" stroke-width="0.4" />
<rect x="615.33" y="115.44" width="8.68" height="7.13" fill="#0D4077" stroke="#9a9a9a" stroke-width="0.4" />
<rect x="519.90" y="122.58" width="8.68" height="7.13" fill="#DF755D" stroke="#9a9a9a" stroke-width="0.4" />
<rect x="528.57" y="122.58" width="8.68" height="7.13" fill="#E58268" stroke="#9a9a9a" stroke-width="0.4" />
<rect x="537.25" y="122.58" width="8.68" height="7.13" fill="#DF755D" stroke="#9a9a9a" stroke-width="0.4" />
<rect x="545.92" y="122.58" width="8.68" height="7.13" fill="#E8896D" stroke="#9a9a9a" stroke-width="0.4" />
<rect x="554.60" y="122.58" width="8.68" height="7.13" fill="#FCDECC" stroke="#9a9a9a" stroke-width="0.4" />
<rect x="563.27" y="122.58" width="8.68" height="7.13" fill="#FDDBC7" stroke="#9a9a9a" stroke-width="0.4" />
<rect x="571.95" y="122.58" width="8.68" height="7.13" fill="#FAE9DF" stroke="#9a9a9a" stroke-width="0.4" />
<rect x="580.62" y="122.58" width="8.68" height="7.13" fill="#F9EFE9" stroke="#9a9a9a" stroke-width="0.4" />
<rect x="589.30" y="122.58" width="8.68" height="7.13" fill="#82BBD9" stroke="#9a9a9a" stroke-width="0.4" />
<rect x="597.98" y="122.58" width="8.68" height="7.13" fill="#63A7CE" stroke="#9a9a9a" stroke-width="0.4" />
<rect x="606.65" y="122.58" width="8.68" height="7.13" fill="#286FB1" stroke="#9a9a9a" stroke-width="0.4" />
<rect x="615.33" y="122.58" width="8.68" height="7.13" fill="#053061" stroke="#9a9a9a" stroke-width="0.4" />
<rect x="519.90" y="129.72" width="8.68" height="7.13" fill="#C43C3C" stroke="#9a9a9a" stroke-width="0.4" />
<rect x="528.57" y="129.72" width="8.68" height="7.13" fill="#B92632" stroke="#9a9a9a" stroke-width="0.4" />
<rect x="537.25" y="129.72" width="8.68" height="7.13" fill="#DF755D" stroke="#9a9a9a" stroke-width="0.4" />
<rect x="545.92" y="129.72" width="8.68" height="7.13" fill="#E58268" stroke="#9a9a9a" stroke-width="0.4" />
<rect x="554.60" y="129.72" width="8.68" height="7.13" fill="#EFF3F6" stroke="#9a9a9a" stroke-width="0.4" />
<rect x="563.27" y="129.72" width="8.68" height="7.13" fill="#EFF3F6" stroke="#9a9a9a" stroke-width="0.4" />
<rect x="571.95" y="129.72" width="8.68" height="7.13" fill="#F7F7F7" stroke="#9a9a9a" stroke-width="0.4" />
<rect x="580.62" y="129.72" width="8.68" height="7.13" fill="#E4EEF4" stroke="#9a9a9a" stroke-width="0.4" />
<rect x="589.30" y="129.72" width="8.68" height="7.13" fill="#63A7CE" stroke="#9a9a9a" stroke-width="0.4" />
<rect x="597.98" y="129.72" width="8.68" height="7.13" fill="#4393C3" stroke="#9a9a9a" stroke-width="0.4" />
<rect x="606.65" y="129.72" width="8.68" height="7.13" fill="#286FB1" stroke="#9a9a9a" stroke-width="0.4" />
<rect x="615.33" y="129.72" width="8.68" height="7.13" fill="#63A7CE" stroke="#9a9a9a" stroke-width="0.4" />
<rect x="519.90" y="136.85" width="8.68" height="7.13" fill="#C43C3C" stroke="#9a9a9a" stroke-width="0.4" />
<rect x="528.57" y="136.85" width="8.68" height="7.13" fill="#C43C3C" stroke="#9a9a9a" stroke-width="0.4" />
<rect x="537.25" y="136.85" width="8.68" height="7.13" fill="#DF755D" stroke="#9a9a9a" stroke-width="0.4" />
<rect x="545.92" y="136.85" width="8.68" height="7.13" fill="#DC6E58" stroke="#9a9a9a" stroke-width="0.4" />
<rect x="554.60" y="136.85" width="8.68" height="7.13" fill="#E4EEF4" stroke="#9a9a9a" stroke-width="0.4" />
<rect x="563.27" y="136.85" width="8.68" height="7.13" fill="#DCEAF2" stroke="#9a9a9a" stroke-width="0.4" />
<rect x="571.95" y="136.85" width="8.68" height="7.13" fill="#E4EEF4" stroke="#9a9a9a" stroke-width="0.4" />
<rect x="580.62" y="136.85" width="8.68" height="7.13" fill="#F3F5F6" stroke="#9a9a9a" stroke-width="0.4" />
<rect x="589.30" y="136.85" width="8.68" height="7.13" fill="#82BBD9" stroke="#9a9a9a" stroke-width="0.4" />
<rect x="597.98" y="136.85" width="8.68" height="7.13" fill="#A5CFE3" stroke="#9a9a9a" stroke-width="0.4" />
<rect x="606.65" y="136.85" width="8.68" height="7.13" fill="#2F78B5" stroke="#9a9a9a" stroke-width="0.4" />
<rect x="615.33" y="136.85" width="8.68" height="7.13" fill="#1B5B9D" stroke="#9a9a9a" stroke-width="0.4" />
<rect x="519.90" y="143.99" width="8.68" height="7.13" fill="#E8896D" stroke="#9a9a9a" stroke-width="0.4" />
<rect x="528.57" y="143.99" width="8.68" height="7.13" fill="#C43C3C" stroke="#9a9a9a" stroke-width="0.4" />
<rect x="537.25" y="143.99" width="8.68" height="7.13" fill="#9B1127" stroke="#9a9a9a" stroke-width="0.4" />
<rect x="545.92" y="143.99" width="8.68" height="7.13" fill="#DF755D" stroke="#9a9a9a" stroke-width="0.4" />
<rect x="554.60" y="143.99" width="8.68" height="7.13" fill="#D5E7F1" stroke="#9a9a9a" stroke-width="0.4" />
<rect x="563.27" y="143.99" width="8.68" height="7.13" fill="#F7F7F7" stroke="#9a9a9a" stroke-width="0.4" />
<rect x="571.95" y="143.99" width="8.68" height="7.13" fill="#A5CFE3" stroke="#9a9a9a" stroke-width="0.4" />
<rect x="580.62" y="143.99" width="8.68" height="7.13" fill="#F8F4F2" stroke="#9a9a9a" stroke-width="0.4" />
<rect x="589.30" y="143.99" width="8.68" height="7.13" fill="#3986BC" stroke="#9a9a9a" stroke-width="0.4" />
<rect x="597.98" y="143.99" width="8.68" height="7.13" fill="#4393C3" stroke="#9a9a9a" stroke-width="0.4" />
<rect x="606.65" y="143.99" width="8.68" height="7.13" fill="#4393C3" stroke="#9a9a9a" stroke-width="0.4" />
<rect x="615.33" y="143.99" width="8.68" height="7.13" fill="#B2D5E7" stroke="#9a9a9a" stroke-width="0.4" />
<rect x="519.90" y="151.12" width="8.68" height="7.13" fill="#F9EFE9" stroke="#9a9a9a" stroke-width="0.4" />
<rect x="528.57" y="151.12" width="8.68" height="7.13" fill="#C43C3C" stroke="#9a9a9a" stroke-width="0.4" />
<rect x="537.25" y="151.12" width="8.68" height="7.13" fill="#A31329" stroke="#9a9a9a" stroke-width="0.4" />
<rect x="545.92" y="151.12" width="8.68" height="7.13" fill="#CB4A43" stroke="#9a9a9a" stroke-width="0.4" />
<rect x="554.60" y="151.12" width="8.68" height="7.13" fill="#FCE1D1" stroke="#9a9a9a" stroke-width="0.4" />
<rect x="563.27" y="151.12" width="8.68" height="7.13" fill="#D1E5F0" stroke="#9a9a9a" stroke-width="0.4" />
<rect x="571.95" y="151.12" width="8.68" height="7.13" fill="#C4DFEC" stroke="#9a9a9a" stroke-width="0.4" />
<rect x="580.62" y="151.12" width="8.68" height="7.13" fill="#B2D5E7" stroke="#9a9a9a" stroke-width="0.4" />
<rect x="589.30" y="151.12" width="8.68" height="7.13" fill="#BEDBEB" stroke="#9a9a9a" stroke-width="0.4" />
<rect x="597.98" y="151.12" width="8.68" height="7.13" fill="#EFF3F6" stroke="#9a9a9a" stroke-width="0.4" />
<rect x="606.65" y="151.12" width="8.68" height="7.13" fill="#4393C3" stroke="#9a9a9a" stroke-width="0.4" />
<rect x="615.33" y="151.12" width="8.68" height="7.13" fill="#0B3B70" stroke="#9a9a9a" stroke-width="0.4" />
<rect x="519.90" y="158.25" width="8.68" height="7.13" fill="#E8896D" stroke="#9a9a9a" stroke-width="0.4" />
<rect x="528.57" y="158.25" width="8.68" height="7.13" fill="#63A7CE" stroke="#9a9a9a" stroke-width="0.4" />
<rect x="537.25" y="158.25" width="8.68" height="7.13" fill="#82BBD9" stroke="#9a9a9a" stroke-width="0.4" />
<rect x="545.92" y="158.25" width="8.68" height="7.13" fill="#286FB1" stroke="#9a9a9a" stroke-width="0.4" />
<rect x="554.60" y="158.25" width="8.68" height="7.13" fill="#FCE1D1" stroke="#9a9a9a" stroke-width="0.4" />
<rect x="563.27" y="158.25" width="8.68" height="7.13" fill="#FCDECC" stroke="#9a9a9a" stroke-width="0.4" />
<rect x="571.95" y="158.25" width="8.68" height="7.13" fill="#DF755D" stroke="#9a9a9a" stroke-width="0.4" />
<rect x="580.62" y="158.25" width="8.68" height="7.13" fill="#FCDECC" stroke="#9a9a9a" stroke-width="0.4" />
<rect x="589.30" y="158.25" width="8.68" height="7.13" fill="#DC6E58" stroke="#9a9a9a" stroke-width="0.4" />
<rect x="597.98" y="158.25" width="8.68" height="7.13" fill="#B92632" stroke="#9a9a9a" stroke-width="0.4" />
<rect x="606.65" y="158.25" width="8.68" height="7.13" fill="#2166AC" stroke="#9a9a9a" stroke-width="0.4" />
<rect x="615.33" y="158.25" width="8.68" height="7.13" fill="#D1E5F0" stroke="#9a9a9a" stroke-width="0.4" />
<rect x="519.90" y="165.39" width="8.68" height="7.13" fill="#BEDBEB" stroke="#9a9a9a" stroke-width="0.4" />
<rect x="528.57" y="165.39" width="8.68" height="7.13" fill="#82BBD9" stroke="#9a9a9a" stroke-width="0.4" />
<rect x="537.25" y="165.39" width="8.68" height="7.13" fill="#2F78B5" stroke="#9a9a9a" stroke-width="0.4" />
<rect x="545.92" y="165.39" width="8.68" height="7.13" fill="#2F78B5" stroke="#9a9a9a" stroke-width="0.4" />
<rect x="554.60" y="165.39" width="8.68" height="7.13" fill="#DC6E58" stroke="#9a9a9a" stroke-width="0.4" />
<rect x="563.27" y="165.39" width="8.68" height="7.13" fill="#C43C3C" stroke="#9a9a9a" stroke-width="0.4" />
<rect x="571.95" y="165.39" width="8.68" height="7.13" fill="#C43C3C" stroke="#9a9a9a" stroke-width="0.4" />
<rect x="580.62" y="165.39" width="8.68" height="7.13" fill="#C03539" stroke="#9a9a9a" stroke-width="0.4" />
<rect x="589.30" y="165.39" width="8.68" height="7.13" fill="#C4DFEC" stroke="#9a9a9a" stroke-width="0.4" />
<rect x="597.98" y="165.39" width="8.68" height="7.13" fill="#FAE9DF" stroke="#9a9a9a" stroke-width="0.4" />
<rect x="606.65" y="165.39" width="8.68" height="7.13" fill="#C4DFEC" stroke="#9a9a9a" stroke-width="0.4" />
<rect x="615.33" y="165.39" width="8.68" height="7.13" fill="#D5E7F1" stroke="#9a9a9a" stroke-width="0.4" />
<rect x="519.90" y="172.52" width="8.68" height="7.13" fill="#3986BC" stroke="#9a9a9a" stroke-width="0.4" />
<rect x="528.57" y="172.52" width="8.68" height="7.13" fill="#4393C3" stroke="#9a9a9a" stroke-width="0.4" />
<rect x="537.25" y="172.52" width="8.68" height="7.13" fill="#2166AC" stroke="#9a9a9a" stroke-width="0.4" />
<rect x="545.92" y="172.52" width="8.68" height="7.13" fill="#286FB1" stroke="#9a9a9a" stroke-width="0.4" />
<rect x="554.60" y="172.52" width="8.68" height="7.13" fill="#E27C62" stroke="#9a9a9a" stroke-width="0.4" />
<rect x="563.27" y="172.52" width="8.68" height="7.13" fill="#E27C62" stroke="#9a9a9a" stroke-width="0.4" />
<rect x="571.95" y="172.52" width="8.68" height="7.13" fill="#E27C62" stroke="#9a9a9a" stroke-width="0.4" />
<rect x="580.62" y="172.52" width="8.68" height="7.13" fill="#E27C62" stroke="#9a9a9a" stroke-width="0.4" />
<rect x="589.30" y="172.52" width="8.68" height="7.13" fill="#FDDBC7" stroke="#9a9a9a" stroke-width="0.4" />
<rect x="597.98" y="172.52" width="8.68" height="7.13" fill="#FDDBC7" stroke="#9a9a9a" stroke-width="0.4" />
<rect x="606.65" y="172.52" width="8.68" height="7.13" fill="#FACBB2" stroke="#9a9a9a" stroke-width="0.4" />
<rect x="615.33" y="172.52" width="8.68" height="7.13" fill="#F8C0A4" stroke="#9a9a9a" stroke-width="0.4" />
<rect x="519.90" y="179.66" width="8.68" height="7.13" fill="#63A7CE" stroke="#9a9a9a" stroke-width="0.4" />
<rect x="528.57" y="179.66" width="8.68" height="7.13" fill="#4393C3" stroke="#9a9a9a" stroke-width="0.4" />
<rect x="537.25" y="179.66" width="8.68" height="7.13" fill="#2166AC" stroke="#9a9a9a" stroke-width="0.4" />
<rect x="545.92" y="179.66" width="8.68" height="7.13" fill="#286FB1" stroke="#9a9a9a" stroke-width="0.4" />
<rect x="554.60" y="179.66" width="8.68" height="7.13" fill="#E27C62" stroke="#9a9a9a" stroke-width="0.4" />
<rect x="563.27" y="179.66" width="8.68" height="7.13" fill="#E58268" stroke="#9a9a9a" stroke-width="0.4" />
<rect x="571.95" y="179.66" width="8.68" height="7.13" fill="#CF5246" stroke="#9a9a9a" stroke-width="0.4" />
<rect x="580.62" y="179.66" width="8.68" height="7.13" fill="#E27C62" stroke="#9a9a9a" stroke-width="0.4" />
<rect x="589.30" y="179.66" width="8.68" height="7.13" fill="#FDDBC7" stroke="#9a9a9a" stroke-width="0.4" />
<rect x="597.98" y="179.66" width="8.68" height="7.13" fill="#F8C0A4" stroke="#9a9a9a" stroke-width="0.4" />
<rect x="606.65" y="179.66" width="8.68" height="7.13" fill="#A5CFE3" stroke="#9a9a9a" stroke-width="0.4" />
<rect x="615.33" y="179.66" width="8.68" height="7.13" fill="#F8C0A4" stroke="#9a9a9a" stroke-width="0.4" />
<rect x="519.90" y="186.80" width="8.68" height="7.13" fill="#63A7CE" stroke="#9a9a9a" stroke-width="0.4" />
<rect x="528.57" y="186.80" width="8.68" height="7.13" fill="#4393C3" stroke="#9a9a9a" stroke-width="0.4" />
<rect x="537.25" y="186.80" width="8.68" height="7.13" fill="#2166AC" stroke="#9a9a9a" stroke-width="0.4" />
<rect x="545.92" y="186.80" width="8.68" height="7.13" fill="#286FB1" stroke="#9a9a9a" stroke-width="0.4" />
<rect x="554.60" y="186.80" width="8.68" height="7.13" fill="#DC6E58" stroke="#9a9a9a" stroke-width="0.4" />
<rect x="563.27" y="186.80" width="8.68" height="7.13" fill="#E8896D" stroke="#9a9a9a" stroke-width="0.4" />
<rect x="571.95" y="186.80" width="8.68" height="7.13" fill="#DC6E58" stroke="#9a9a9a" stroke-width="0.4" />
<rect x="580.62" y="186.80" width="8.68" height="7.13" fill="#DF755D" stroke="#9a9a9a" stroke-width="0.4" />
<rect x="589.30" y="186.80" width="8.68" height="7.13" fill="#FCDECC" stroke="#9a9a9a" stroke-width="0.4" />
<rect x="597.98" y="186.80" width="8.68" height="7.13" fill="#F8C0A4" stroke="#9a9a9a" stroke-width="0.4" />
<rect x="606.65" y="186.80" width="8.68" height="7.13" fill="#F7F7F7" stroke="#9a9a9a" stroke-width="0.4" />
<rect x="615.33" y="186.80" width="8.68" height="7.13" fill="#FCE1D1" stroke="#9a9a9a" stroke-width="0.4" />
<rect x="519.90" y="193.93" width="8.68" height="7.13" fill="#63A7CE" stroke="#9a9a9a" stroke-width="0.4" />
<rect x="528.57" y="193.93" width="8.68" height="7.13" fill="#63A7CE" stroke="#9a9a9a" stroke-width="0.4" />
<rect x="537.25" y="193.93" width="8.68" height="7.13" fill="#A5CFE3" stroke="#9a9a9a" stroke-width="0.4" />
<rect x="545.92" y="193.93" width="8.68" height="7.13" fill="#A5CFE3" stroke="#9a9a9a" stroke-width="0.4" />
<rect x="554.60" y="193.93" width="8.68" height="7.13" fill="#539DC8" stroke="#9a9a9a" stroke-width="0.4" />
<rect x="563.27" y="193.93" width="8.68" height="7.13" fill="#4393C3" stroke="#9a9a9a" stroke-width="0.4" />
<rect x="571.95" y="193.93" width="8.68" height="7.13" fill="#F8F1ED" stroke="#9a9a9a" stroke-width="0.4" />
<rect x="580.62" y="193.93" width="8.68" height="7.13" fill="#FAE9DF" stroke="#9a9a9a" stroke-width="0.4" />
<rect x="589.30" y="193.93" width="8.68" height="7.13" fill="#C43C3C" stroke="#9a9a9a" stroke-width="0.4" />
<rect x="597.98" y="193.93" width="8.68" height="7.13" fill="#C03539" stroke="#9a9a9a" stroke-width="0.4" />
<rect x="606.65" y="193.93" width="8.68" height="7.13" fill="#CF5246" stroke="#9a9a9a" stroke-width="0.4" />
<rect x="615.33" y="193.93" width="8.68" height="7.13" fill="#CF5246" stroke="#9a9a9a" stroke-width="0.4" />
<rect x="519.90" y="201.06" width="8.68" height="7.13" fill="#63A7CE" stroke="#9a9a9a" stroke-width="0.4" />
<rect x="528.57" y="201.06" width="8.68" height="7.13" fill="#4393C3" stroke="#9a9a9a" stroke-width="0.4" />
<rect x="537.25" y="201.06" width="8.68" height="7.13" fill="#9FCBE2" stroke="#9a9a9a" stroke-width="0.4" />
<rect x="545.92" y="201.06" width="8.68" height="7.13" fill="#63A7CE" stroke="#9a9a9a" stroke-width="0.4" />
<rect x="554.60" y="201.06" width="8.68" height="7.13" fill="#D1E5F0" stroke="#9a9a9a" stroke-width="0.4" />
<rect x="563.27" y="201.06" width="8.68" height="7.13" fill="#D9E9F1" stroke="#9a9a9a" stroke-width="0.4" />
<rect x="571.95" y="201.06" width="8.68" height="7.13" fill="#B2D5E7" stroke="#9a9a9a" stroke-width="0.4" />
<rect x="580.62" y="201.06" width="8.68" height="7.13" fill="#D1E5F0" stroke="#9a9a9a" stroke-width="0.4" />
<rect x="589.30" y="201.06" width="8.68" height="7.13" fill="#E58268" stroke="#9a9a9a" stroke-width="0.4" />
<rect x="597.98" y="201.06" width="8.68" height="7.13" fill="#DC6E58" stroke="#9a9a9a" stroke-width="0.4" />
<rect x="606.65" y="201.06" width="8.68" height="7.13" fill="#B2182B" stroke="#9a9a9a" stroke-width="0.4" />
<rect x="615.33" y="201.06" width="8.68" height="7.13" fill="#760521" stroke="#9a9a9a" stroke-width="0.4" />
<rect x="519.90" y="208.20" width="8.68" height="7.13" fill="#63A7CE" stroke="#9a9a9a" stroke-width="0.4" />
<rect x="528.57" y="208.20" width="8.68" height="7.13" fill="#63A7CE" stroke="#9a9a9a" stroke-width="0.4" />
<rect x="537.25" y="208.20" width="8.68" height="7.13" fill="#539DC8" stroke="#9a9a9a" stroke-width="0.4" />
<rect x="545.92" y="208.20" width="8.68" height="7.13" fill="#63A7CE" stroke="#9a9a9a" stroke-width="0.4" />
<rect x="554.60" y="208.20" width="8.68" height="7.13" fill="#C4DFEC" stroke="#9a9a9a" stroke-width="0.4" />
<rect x="563.27" y="208.20" width="8.68" height="7.13" fill="#A5CFE3" stroke="#9a9a9a" stroke-width="0.4" />
<rect x="571.95" y="208.20" width="8.68" height="7.13" fill="#F3F5F6" stroke="#9a9a9a" stroke-width="0.4" />
<rect x="580.62" y="208.20" width="8.68" height="7.13" fill="#D9E9F1" stroke="#9a9a9a" stroke-width="0.4" />
<rect x="589.30" y="208.20" width="8.68" height="7.13" fill="#DC6E58" stroke="#9a9a9a" stroke-width="0.4" />
<rect x="597.98" y="208.20" width="8.68" height="7.13" fill="#DC6E58" stroke="#9a9a9a" stroke-width="0.4" />
<rect x="606.65" y="208.20" width="8.68" height="7.13" fill="#9B1127" stroke="#9a9a9a" stroke-width="0.4" />
<rect x="615.33" y="208.20" width="8.68" height="7.13" fill="#C43C3C" stroke="#9a9a9a" stroke-width="0.4" />
<rect x="519.90" y="215.34" width="8.68" height="7.13" fill="#4393C3" stroke="#9a9a9a" stroke-width="0.4" />
<rect x="528.57" y="215.34" width="8.68" height="7.13" fill="#3986BC" stroke="#9a9a9a" stroke-width="0.4" />
<rect x="537.25" y="215.34" width="8.68" height="7.13" fill="#2F78B5" stroke="#9a9a9a" stroke-width="0.4" />
<rect x="545.92" y="215.34" width="8.68" height="7.13" fill="#3986BC" stroke="#9a9a9a" stroke-width="0.4" />
<rect x="554.60" y="215.34" width="8.68" height="7.13" fill="#F8C0A4" stroke="#9a9a9a" stroke-width="0.4" />
<rect x="563.27" y="215.34" width="8.68" height="7.13" fill="#F8C0A4" stroke="#9a9a9a" stroke-width="0.4" />
<rect x="571.95" y="215.34" width="8.68" height="7.13" fill="#E4EEF4" stroke="#9a9a9a" stroke-width="0.4" />
<rect x="580.62" y="215.34" width="8.68" height="7.13" fill="#F7B597" stroke="#9a9a9a" stroke-width="0.4" />
<rect x="589.30" y="215.34" width="8.68" height="7.13" fill="#DF755D" stroke="#9a9a9a" stroke-width="0.4" />
<rect x="597.98" y="215.34" width="8.68" height="7.13" fill="#C03539" stroke="#9a9a9a" stroke-width="0.4" />
<rect x="606.65" y="215.34" width="8.68" height="7.13" fill="#F7B597" stroke="#9a9a9a" stroke-width="0.4" />
<rect x="615.33" y="215.34" width="8.68" height="7.13" fill="#F4A582" stroke="#9a9a9a" stroke-width="0.4" />
<rect x="519.90" y="222.47" width="8.68" height="7.13" fill="#539DC8" stroke="#9a9a9a" stroke-width="0.4" />
<rect x="528.57" y="222.47" width="8.68" height="7.13" fill="#4393C3" stroke="#9a9a9a" stroke-width="0.4" />
<rect x="537.25" y="222.47" width="8.68" height="7.13" fill="#1B5B9D" stroke="#9a9a9a" stroke-width="0.4" />
<rect x="545.92" y="222.47" width="8.68" height="7.13" fill="#286FB1" stroke="#9a9a9a" stroke-width="0.4" />
<rect x="554.60" y="222.47" width="8.68" height="7.13" fill="#FAE9DF" stroke="#9a9a9a" stroke-width="0.4" />
<rect x="563.27" y="222.47" width="8.68" height="7.13" fill="#FCDECC" stroke="#9a9a9a" stroke-width="0.4" />
<rect x="571.95" y="222.47" width="8.68" height="7.13" fill="#FCE1D1" stroke="#9a9a9a" stroke-width="0.4" />
<rect x="580.62" y="222.47" width="8.68" height="7.13" fill="#FCE1D1" stroke="#9a9a9a" stroke-width="0.4" />
<rect x="589.30" y="222.47" width="8.68" height="7.13" fill="#E27C62" stroke="#9a9a9a" stroke-width="0.4" />
<rect x="597.98" y="222.47" width="8.68" height="7.13" fill="#E27C62" stroke="#9a9a9a" stroke-width="0.4" />
<rect x="606.65" y="222.47" width="8.68" height="7.13" fill="#CB4A43" stroke="#9a9a9a" stroke-width="0.4" />
<rect x="615.33" y="222.47" width="8.68" height="7.13" fill="#E58268" stroke="#9a9a9a" stroke-width="0.4" />
<rect x="519.90" y="229.60" width="8.68" height="7.13" fill="#4393C3" stroke="#9a9a9a" stroke-width="0.4" />
<rect x="528.57" y="229.60" width="8.68" height="7.13" fill="#539DC8" stroke="#9a9a9a" stroke-width="0.4" />
<rect x="537.25" y="229.60" width="8.68" height="7.13" fill="#1B5B9D" stroke="#9a9a9a" stroke-width="0.4" />
<rect x="545.92" y="229.60" width="8.68" height="7.13" fill="#2166AC" stroke="#9a9a9a" stroke-width="0.4" />
<rect x="554.60" y="229.60" width="8.68" height="7.13" fill="#F9C5AB" stroke="#9a9a9a" stroke-width="0.4" />
<rect x="563.27" y="229.60" width="8.68" height="7.13" fill="#EE9777" stroke="#9a9a9a" stroke-width="0.4" />
<rect x="571.95" y="229.60" width="8.68" height="7.13" fill="#F9C5AB" stroke="#9a9a9a" stroke-width="0.4" />
<rect x="580.62" y="229.60" width="8.68" height="7.13" fill="#F9C5AB" stroke="#9a9a9a" stroke-width="0.4" />
<rect x="589.30" y="229.60" width="8.68" height="7.13" fill="#CB4A43" stroke="#9a9a9a" stroke-width="0.4" />
<rect x="597.98" y="229.60" width="8.68" height="7.13" fill="#F9C5AB" stroke="#9a9a9a" stroke-width="0.4" />
<rect x="606.65" y="229.60" width="8.68" height="7.13" fill="#E8896D" stroke="#9a9a9a" stroke-width="0.4" />
<rect x="615.33" y="229.60" width="8.68" height="7.13" fill="#FDDBC7" stroke="#9a9a9a" stroke-width="0.4" />
<rect x="519.90" y="236.74" width="8.68" height="7.13" fill="#3986BC" stroke="#9a9a9a" stroke-width="0.4" />
<rect x="528.57" y="236.74" width="8.68" height="7.13" fill="#3986BC" stroke="#9a9a9a" stroke-width="0.4" />
<rect x="537.25" y="236.74" width="8.68" height="7.13" fill="#286FB1" stroke="#9a9a9a" stroke-width="0.4" />
<rect x="545.92" y="236.74" width="8.68" height="7.13" fill="#2166AC" stroke="#9a9a9a" stroke-width="0.4" />
<rect x="554.60" y="236.74" width="8.68" height="7.13" fill="#F7B597" stroke="#9a9a9a" stroke-width="0.4" />
<rect x="563.27" y="236.74" width="8.68" height="7.13" fill="#F7B597" stroke="#9a9a9a" stroke-width="0.4" />
<rect x="571.95" y="236.74" width="8.68" height="7.13" fill="#F8BB9E" stroke="#9a9a9a" stroke-width="0.4" />
<rect x="580.62" y="236.74" width="8.68" height="7.13" fill="#F4A582" stroke="#9a9a9a" stroke-width="0.4" />
<rect x="589.30" y="236.74" width="8.68" height="7.13" fill="#EE9777" stroke="#9a9a9a" stroke-width="0.4" />
<rect x="597.98" y="236.74" width="8.68" height="7.13" fill="#F19E7D" stroke="#9a9a9a" stroke-width="0.4" />
<rect x="606.65" y="236.74" width="8.68" height="7.13" fill="#EE9777" stroke="#9a9a9a" stroke-width="0.4" />
<rect x="615.33" y="236.74" width="8.68" height="7.13" fill="#F4A582" stroke="#9a9a9a" stroke-width="0.4" />
<rect x="519.90" y="243.88" width="8.68" height="7.13" fill="#539DC8" stroke="#9a9a9a" stroke-width="0.4" />
<rect x="528.57" y="243.88" width="8.68" height="7.13" fill="#63A7CE" stroke="#9a9a9a" stroke-width="0.4" />
<rect x="537.25" y="243.88" width="8.68" height="7.13" fill="#4393C3" stroke="#9a9a9a" stroke-width="0.4" />
<rect x="545.92" y="243.88" width="8.68" height="7.13" fill="#286FB1" stroke="#9a9a9a" stroke-width="0.4" />
<rect x="554.60" y="243.88" width="8.68" height="7.13" fill="#FAE9DF" stroke="#9a9a9a" stroke-width="0.4" />
<rect x="563.27" y="243.88" width="8.68" height="7.13" fill="#F9EFE9" stroke="#9a9a9a" stroke-width="0.4" />
<rect x="571.95" y="243.88" width="8.68" height="7.13" fill="#FAE9DF" stroke="#9a9a9a" stroke-width="0.4" />
<rect x="580.62" y="243.88" width="8.68" height="7.13" fill="#FCE1D1" stroke="#9a9a9a" stroke-width="0.4" />
<rect x="589.30" y="243.88" width="8.68" height="7.13" fill="#FAE9DF" stroke="#9a9a9a" stroke-width="0.4" />
<rect x="597.98" y="243.88" width="8.68" height="7.13" fill="#FCE1D1" stroke="#9a9a9a" stroke-width="0.4" />
<rect x="606.65" y="243.88" width="8.68" height="7.13" fill="#67001F" stroke="#9a9a9a" stroke-width="0.4" />
<rect x="615.33" y="243.88" width="8.68" height="7.13" fill="#B2182B" stroke="#9a9a9a" stroke-width="0.4" />
<rect x="519.90" y="251.01" width="8.68" height="7.13" fill="#286FB1" stroke="#9a9a9a" stroke-width="0.4" />
<rect x="528.57" y="251.01" width="8.68" height="7.13" fill="#63A7CE" stroke="#9a9a9a" stroke-width="0.4" />
<rect x="537.25" y="251.01" width="8.68" height="7.13" fill="#3986BC" stroke="#9a9a9a" stroke-width="0.4" />
<rect x="545.92" y="251.01" width="8.68" height="7.13" fill="#4393C3" stroke="#9a9a9a" stroke-width="0.4" />
<rect x="554.60" y="251.01" width="8.68" height="7.13" fill="#B92632" stroke="#9a9a9a" stroke-width="0.4" />
<rect x="563.27" y="251.01" width="8.68" height="7.13" fill="#F4A582" stroke="#9a9a9a" stroke-width="0.4" />
<rect x="571.95" y="251.01" width="8.68" height="7.13" fill="#F8C0A4" stroke="#9a9a9a" stroke-width="0.4" />
<rect x="580.62" y="251.01" width="8.68" height="7.13" fill="#E4EEF4" stroke="#9a9a9a" stroke-width="0.4" />
<rect x="589.30" y="251.01" width="8.68" height="7.13" fill="#FCD6C0" stroke="#9a9a9a" stroke-width="0.4" />
<rect x="597.98" y="251.01" width="8.68" height="7.13" fill="#F3F5F6" stroke="#9a9a9a" stroke-width="0.4" />
<rect x="606.65" y="251.01" width="8.68" height="7.13" fill="#FCDECC" stroke="#9a9a9a" stroke-width="0.4" />
<rect x="615.33" y="251.01" width="8.68" height="7.13" fill="#B2182B" stroke="#9a9a9a" stroke-width="0.4" />
<rect x="519.90" y="258.14" width="8.68" height="7.13" fill="#286FB1" stroke="#9a9a9a" stroke-width="0.4" />
<rect x="528.57" y="258.14" width="8.68" height="7.13" fill="#539DC8" stroke="#9a9a9a" stroke-width="0.4" />
<rect x="537.25" y="258.14" width="8.68" height="7.13" fill="#63A7CE" stroke="#9a9a9a" stroke-width="0.4" />
<rect x="545.92" y="258.14" width="8.68" height="7.13" fill="#3986BC" stroke="#9a9a9a" stroke-width="0.4" />
<rect x="554.60" y="258.14" width="8.68" height="7.13" fill="#FCD6C0" stroke="#9a9a9a" stroke-width="0.4" />
<rect x="563.27" y="258.14" width="8.68" height="7.13" fill="#F8C0A4" stroke="#9a9a9a" stroke-width="0.4" />
<rect x="571.95" y="258.14" width="8.68" height="7.13" fill="#E8F0F4" stroke="#9a9a9a" stroke-width="0.4" />
<rect x="580.62" y="258.14" width="8.68" height="7.13" fill="#DCEAF2" stroke="#9a9a9a" stroke-width="0.4" />
<rect x="589.30" y="258.14" width="8.68" height="7.13" fill="#E27C62" stroke="#9a9a9a" stroke-width="0.4" />
<rect x="597.98" y="258.14" width="8.68" height="7.13" fill="#E27C62" stroke="#9a9a9a" stroke-width="0.4" />
<rect x="606.65" y="258.14" width="8.68" height="7.13" fill="#EE9777" stroke="#9a9a9a" stroke-width="0.4" />
<rect x="615.33" y="258.14" width="8.68" height="7.13" fill="#B2182B" stroke="#9a9a9a" stroke-width="0.4" />
<rect x="519.90" y="265.28" width="8.68" height="7.13" fill="#1B5B9D" stroke="#9a9a9a" stroke-width="0.4" />
<rect x="528.57" y="265.28" width="8.68" height="7.13" fill="#286FB1" stroke="#9a9a9a" stroke-width="0.4" />
<rect x="537.25" y="265.28" width="8.68" height="7.13" fill="#A5CFE3" stroke="#9a9a9a" stroke-width="0.4" />
<rect x="545.92" y="265.28" width="8.68" height="7.13" fill="#92C5DE" stroke="#9a9a9a" stroke-width="0.4" />
<rect x="554.60" y="265.28" width="8.68" height="7.13" fill="#FAE9DF" stroke="#9a9a9a" stroke-width="0.4" />
<rect x="563.27" y="265.28" width="8.68" height="7.13" fill="#F8C0A4" stroke="#9a9a9a" stroke-width="0.4" />
<rect x="571.95" y="265.28" width="8.68" height="7.13" fill="#E0ECF3" stroke="#9a9a9a" stroke-width="0.4" />
<rect x="580.62" y="265.28" width="8.68" height="7.13" fill="#E4EEF4" stroke="#9a9a9a" stroke-width="0.4" />
<rect x="589.30" y="265.28" width="8.68" height="7.13" fill="#CF5246" stroke="#9a9a9a" stroke-width="0.4" />
<rect x="597.98" y="265.28" width="8.68" height="7.13" fill="#E27C62" stroke="#9a9a9a" stroke-width="0.4" />
<rect x="606.65" y="265.28" width="8.68" height="7.13" fill="#F8C0A4" stroke="#9a9a9a" stroke-width="0.4" />
<rect x="615.33" y="265.28" width="8.68" height="7.13" fill="#B2182B" stroke="#9a9a9a" stroke-width="0.4" />
<text x="625.60" y="71.37" font-size="5.45" text-anchor="start" fill="#222" >Bmi1</text>
<text x="625.60" y="78.50" font-size="5.45" text-anchor="start" fill="#222" >Thbs4</text>
<text x="625.60" y="85.64" font-size="5.45" text-anchor="start" fill="#222" >Cdk2</text>
<text x="625.60" y="92.77" font-size="5.45" text-anchor="start" fill="#222" >Nes</text>
<text x="625.60" y="99.91" font-size="5.45" text-anchor="start" fill="#222" >Mki67</text>
<text x="625.60" y="107.04" font-size="5.45" text-anchor="start" fill="#222" >Mcm2</text>
<text x="625.60" y="114.18" font-size="5.45" text-anchor="start" fill="#222" >Aurkb</text>
<text x="625.60" y="121.31" font-size="5.45" text-anchor="start" fill="#222" >Hes5</text>
<text x="625.60" y="128.45" font-size="5.45" text-anchor="start" fill="#222" >Fabp7</text>
<text x="625.60" y="135.58" font-size="5.45" text-anchor="start" fill="#222" >Cdkn1a</text>
<text x="625.60" y="142.72" font-size="5.45" text-anchor="start" fill="#222" >Egfr</text>
<text x="625.60" y="149.85" font-size="5.45" text-anchor="start" fill="#222" >Gli1</text>
<text x="625.60" y="156.99" font-size="5.45" text-anchor="start" fill="#222" >Gli3</text>
<text x="625.60" y="164.12" font-size="5.45" text-anchor="start" fill="#222" >Rarres2</text>
<text x="625.60" y="171.26" font-size="5.45" text-anchor="start" fill="#222" >Cd9</text>
<text x="625.60" y="178.39" font-size="5.45" text-anchor="start" fill="#222" >Gfap</text>
<text x="625.60" y="185.53" font-size="5.45" text-anchor="start" fill="#222" >Cd81</text>
<text x="625.60" y="192.66" font-size="5.45" text-anchor="start" fill="#222" >Lrig1</text>
<text x="625.60" y="199.80" font-size="5.45" text-anchor="start" fill="#222" >Notch2</text>
<text x="625.60" y="206.93" font-size="5.45" text-anchor="start" fill="#222" >Foxg1</text>
<text x="625.60" y="214.07" font-size="5.45" text-anchor="start" fill="#222" >Prom1</text>
<text x="625.60" y="221.20" font-size="5.45" text-anchor="start" fill="#222" >Id1</text>
<text x="625.60" y="228.34" font-size="5.45" text-anchor="start" fill="#222" >Foxo3</text>
<text x="625.60" y="235.47" font-size="5.45" text-anchor="start" fill="#222" >Sox2</text>
<text x="625.60" y="242.61" font-size="5.45" text-anchor="start" fill="#222" >Sox9</text>
<text x="625.60" y="249.74" font-size="5.45" text-anchor="start" fill="#222" >Pdgfra</text>
<text x="625.60" y="256.88" font-size="5.45" text-anchor="start" fill="#222" >Nr2e1</text>
<text x="625.60" y="264.01" font-size="5.45" text-anchor="start" fill="#222" >Ascl1</text>
<text x="625.60" y="271.15" font-size="5.45" text-anchor="start" fill="#222" >Nfix</text>
<text x="625.60" y="57.00" font-size="5.6" text-anchor="start" fill="#000" font-weight="bold" >Mouse</text>
<text x="625.60" y="63.20" font-size="5.6" text-anchor="start" fill="#000" font-weight="bold" >Cell</text>
<line x1="541.59" y1="47.30" x2="550.26" y2="47.30" stroke="#666" stroke-width="0.9"/>
<line x1="541.59" y1="47.30" x2="541.59" y2="52.00" stroke="#666" stroke-width="0.9"/>
<line x1="550.26" y1="47.30" x2="550.26" y2="52.00" stroke="#666" stroke-width="0.9"/>
<line x1="532.91" y1="46.80" x2="545.92" y2="46.80" stroke="#666" stroke-width="0.9"/>
<line x1="532.91" y1="46.80" x2="532.91" y2="52.00" stroke="#666" stroke-width="0.9"/>
<line x1="545.92" y1="46.80" x2="545.92" y2="47.30" stroke="#666" stroke-width="0.9"/>
<line x1="524.24" y1="42.40" x2="539.42" y2="42.40" stroke="#666" stroke-width="0.9"/>
<line x1="524.24" y1="42.40" x2="524.24" y2="52.00" stroke="#666" stroke-width="0.9"/>
<line x1="539.42" y1="42.40" x2="539.42" y2="46.80" stroke="#666" stroke-width="0.9"/>
<line x1="558.94" y1="48.10" x2="567.61" y2="48.10" stroke="#666" stroke-width="0.9"/>
<line x1="558.94" y1="48.10" x2="558.94" y2="52.00" stroke="#666" stroke-width="0.9"/>
<line x1="567.61" y1="48.10" x2="567.61" y2="52.00" stroke="#666" stroke-width="0.9"/>
<line x1="576.29" y1="47.80" x2="584.96" y2="47.80" stroke="#666" stroke-width="0.9"/>
<line x1="576.29" y1="47.80" x2="576.29" y2="52.00" stroke="#666" stroke-width="0.9"/>
<line x1="584.96" y1="47.80" x2="584.96" y2="52.00" stroke="#666" stroke-width="0.9"/>
<line x1="563.27" y1="45.40" x2="580.62" y2="45.40" stroke="#666" stroke-width="0.9"/>
<line x1="563.27" y1="45.40" x2="563.27" y2="48.10" stroke="#666" stroke-width="0.9"/>
<line x1="580.62" y1="45.40" x2="580.62" y2="47.80" stroke="#666" stroke-width="0.9"/>
<line x1="593.64" y1="48.40" x2="602.31" y2="48.40" stroke="#666" stroke-width="0.9"/>
<line x1="593.64" y1="48.40" x2="593.64" y2="52.00" stroke="#666" stroke-width="0.9"/>
<line x1="602.31" y1="48.40" x2="602.31" y2="52.00" stroke="#666" stroke-width="0.9"/>
<line x1="610.99" y1="44.60" x2="619.66" y2="44.60" stroke="#666" stroke-width="0.9"/>
<line x1="610.99" y1="44.60" x2="610.99" y2="52.00" stroke="#666" stroke-width="0.9"/>
<line x1="619.66" y1="44.60" x2="619.66" y2="52.00" stroke="#666" stroke-width="0.9"/>
<line x1="597.98" y1="40.40" x2="615.33" y2="40.40" stroke="#666" stroke-width="0.9"/>
<line x1="597.98" y1="40.40" x2="597.98" y2="48.40" stroke="#666" stroke-width="0.9"/>
<line x1="615.33" y1="40.40" x2="615.33" y2="44.60" stroke="#666" stroke-width="0.9"/>
<line x1="571.95" y1="35.30" x2="606.65" y2="35.30" stroke="#666" stroke-width="0.9"/>
<line x1="571.95" y1="35.30" x2="571.95" y2="45.40" stroke="#666" stroke-width="0.9"/>
<line x1="606.65" y1="35.30" x2="606.65" y2="40.40" stroke="#666" stroke-width="0.9"/>
<line x1="531.83" y1="24.20" x2="589.30" y2="24.20" stroke="#666" stroke-width="0.9"/>
<line x1="531.83" y1="24.20" x2="531.83" y2="42.40" stroke="#666" stroke-width="0.9"/>
<line x1="589.30" y1="24.20" x2="589.30" y2="35.30" stroke="#666" stroke-width="0.9"/>
<line x1="518.40" y1="83.34" x2="518.40" y2="90.47" stroke="#666" stroke-width="0.9"/>
<line x1="518.40" y1="83.34" x2="519.90" y2="83.34" stroke="#666" stroke-width="0.9"/>
<line x1="518.40" y1="90.47" x2="519.90" y2="90.47" stroke="#666" stroke-width="0.9"/>
<line x1="518.40" y1="104.74" x2="518.40" y2="111.88" stroke="#666" stroke-width="0.9"/>
<line x1="518.40" y1="104.74" x2="519.90" y2="104.74" stroke="#666" stroke-width="0.9"/>
<line x1="518.40" y1="111.88" x2="519.90" y2="111.88" stroke="#666" stroke-width="0.9"/>
<line x1="516.80" y1="97.61" x2="516.80" y2="108.31" stroke="#666" stroke-width="0.9"/>
<line x1="516.80" y1="97.61" x2="519.90" y2="97.61" stroke="#666" stroke-width="0.9"/>
<line x1="516.80" y1="108.31" x2="518.40" y2="108.31" stroke="#666" stroke-width="0.9"/>
<line x1="516.10" y1="86.91" x2="516.10" y2="102.96" stroke="#666" stroke-width="0.9"/>
<line x1="516.10" y1="86.91" x2="518.40" y2="86.91" stroke="#666" stroke-width="0.9"/>
<line x1="516.10" y1="102.96" x2="516.80" y2="102.96" stroke="#666" stroke-width="0.9"/>
<line x1="513.70" y1="76.20" x2="513.70" y2="94.93" stroke="#666" stroke-width="0.9"/>
<line x1="513.70" y1="76.20" x2="519.90" y2="76.20" stroke="#666" stroke-width="0.9"/>
<line x1="513.70" y1="94.93" x2="516.10" y2="94.93" stroke="#666" stroke-width="0.9"/>
<line x1="511.30" y1="69.07" x2="511.30" y2="85.57" stroke="#666" stroke-width="0.9"/>
<line x1="511.30" y1="69.07" x2="519.90" y2="69.07" stroke="#666" stroke-width="0.9"/>
<line x1="511.30" y1="85.57" x2="513.70" y2="85.57" stroke="#666" stroke-width="0.9"/>
<line x1="515.50" y1="133.28" x2="515.50" y2="140.42" stroke="#666" stroke-width="0.9"/>
<line x1="515.50" y1="133.28" x2="519.90" y2="133.28" stroke="#666" stroke-width="0.9"/>
<line x1="515.50" y1="140.42" x2="519.90" y2="140.42" stroke="#666" stroke-width="0.9"/>
<line x1="514.50" y1="126.15" x2="514.50" y2="136.85" stroke="#666" stroke-width="0.9"/>
<line x1="514.50" y1="126.15" x2="519.90" y2="126.15" stroke="#666" stroke-width="0.9"/>
<line x1="514.50" y1="136.85" x2="515.50" y2="136.85" stroke="#666" stroke-width="0.9"/>
<line x1="512.30" y1="119.01" x2="512.30" y2="131.50" stroke="#666" stroke-width="0.9"/>
<line x1="512.30" y1="119.01" x2="519.90" y2="119.01" stroke="#666" stroke-width="0.9"/>
<line x1="512.30" y1="131.50" x2="514.50" y2="131.50" stroke="#666" stroke-width="0.9"/>
<line x1="511.00" y1="147.55" x2="511.00" y2="154.69" stroke="#666" stroke-width="0.9"/>
<line x1="511.00" y1="147.55" x2="519.90" y2="147.55" stroke="#666" stroke-width="0.9"/>
<line x1="511.00" y1="154.69" x2="519.90" y2="154.69" stroke="#666" stroke-width="0.9"/>
<line x1="508.40" y1="125.26" x2="508.40" y2="151.12" stroke="#666" stroke-width="0.9"/>
<line x1="508.40" y1="125.26" x2="512.30" y2="125.26" stroke="#666" stroke-width="0.9"/>
<line x1="508.40" y1="151.12" x2="511.00" y2="151.12" stroke="#666" stroke-width="0.9"/>
<line x1="502.40" y1="77.32" x2="502.40" y2="138.19" stroke="#666" stroke-width="0.9"/>
<line x1="502.40" y1="77.32" x2="511.30" y2="77.32" stroke="#666" stroke-width="0.9"/>
<line x1="502.40" y1="138.19" x2="508.40" y2="138.19" stroke="#666" stroke-width="0.9"/>
<line x1="517.10" y1="183.23" x2="517.10" y2="190.36" stroke="#666" stroke-width="0.9"/>
<line x1="517.10" y1="183.23" x2="519.90" y2="183.23" stroke="#666" stroke-width="0.9"/>
<line x1="517.10" y1="190.36" x2="519.90" y2="190.36" stroke="#666" stroke-width="0.9"/>
<line x1="515.40" y1="176.09" x2="515.40" y2="186.80" stroke="#666" stroke-width="0.9"/>
<line x1="515.40" y1="176.09" x2="519.90" y2="176.09" stroke="#666" stroke-width="0.9"/>
<line x1="515.40" y1="186.80" x2="517.10" y2="186.80" stroke="#666" stroke-width="0.9"/>
<line x1="512.60" y1="168.96" x2="512.60" y2="181.44" stroke="#666" stroke-width="0.9"/>
<line x1="512.60" y1="168.96" x2="519.90" y2="168.96" stroke="#666" stroke-width="0.9"/>
<line x1="512.60" y1="181.44" x2="515.40" y2="181.44" stroke="#666" stroke-width="0.9"/>
<line x1="505.10" y1="161.82" x2="505.10" y2="175.20" stroke="#666" stroke-width="0.9"/>
<line x1="505.10" y1="161.82" x2="519.90" y2="161.82" stroke="#666" stroke-width="0.9"/>
<line x1="505.10" y1="175.20" x2="512.60" y2="175.20" stroke="#666" stroke-width="0.9"/>
<line x1="516.20" y1="204.63" x2="516.20" y2="211.77" stroke="#666" stroke-width="0.9"/>
<line x1="516.20" y1="204.63" x2="519.90" y2="204.63" stroke="#666" stroke-width="0.9"/>
<line x1="516.20" y1="211.77" x2="519.90" y2="211.77" stroke="#666" stroke-width="0.9"/>
<line x1="513.20" y1="197.50" x2="513.20" y2="208.20" stroke="#666" stroke-width="0.9"/>
<line x1="513.20" y1="197.50" x2="519.90" y2="197.50" stroke="#666" stroke-width="0.9"/>
<line x1="513.20" y1="208.20" x2="516.20" y2="208.20" stroke="#666" stroke-width="0.9"/>
<line x1="516.10" y1="233.17" x2="516.10" y2="240.31" stroke="#666" stroke-width="0.9"/>
<line x1="516.10" y1="233.17" x2="519.90" y2="233.17" stroke="#666" stroke-width="0.9"/>
<line x1="516.10" y1="240.31" x2="519.90" y2="240.31" stroke="#666" stroke-width="0.9"/>
<line x1="514.90" y1="226.04" x2="514.90" y2="236.74" stroke="#666" stroke-width="0.9"/>
<line x1="514.90" y1="226.04" x2="519.90" y2="226.04" stroke="#666" stroke-width="0.9"/>
<line x1="514.90" y1="236.74" x2="516.10" y2="236.74" stroke="#666" stroke-width="0.9"/>
<line x1="514.30" y1="218.90" x2="514.30" y2="231.39" stroke="#666" stroke-width="0.9"/>
<line x1="514.30" y1="218.90" x2="519.90" y2="218.90" stroke="#666" stroke-width="0.9"/>
<line x1="514.30" y1="231.39" x2="514.90" y2="231.39" stroke="#666" stroke-width="0.9"/>
<line x1="515.70" y1="261.71" x2="515.70" y2="268.85" stroke="#666" stroke-width="0.9"/>
<line x1="515.70" y1="261.71" x2="519.90" y2="261.71" stroke="#666" stroke-width="0.9"/>
<line x1="515.70" y1="268.85" x2="519.90" y2="268.85" stroke="#666" stroke-width="0.9"/>
<line x1="510.90" y1="254.58" x2="510.90" y2="265.28" stroke="#666" stroke-width="0.9"/>
<line x1="510.90" y1="254.58" x2="519.90" y2="254.58" stroke="#666" stroke-width="0.9"/>
<line x1="510.90" y1="265.28" x2="515.70" y2="265.28" stroke="#666" stroke-width="0.9"/>
<line x1="510.60" y1="247.44" x2="510.60" y2="259.93" stroke="#666" stroke-width="0.9"/>
<line x1="510.60" y1="247.44" x2="519.90" y2="247.44" stroke="#666" stroke-width="0.9"/>
<line x1="510.60" y1="259.93" x2="510.90" y2="259.93" stroke="#666" stroke-width="0.9"/>
<line x1="510.40" y1="225.15" x2="510.40" y2="253.69" stroke="#666" stroke-width="0.9"/>
<line x1="510.40" y1="225.15" x2="514.30" y2="225.15" stroke="#666" stroke-width="0.9"/>
<line x1="510.40" y1="253.69" x2="510.60" y2="253.69" stroke="#666" stroke-width="0.9"/>
<line x1="504.30" y1="202.85" x2="504.30" y2="239.42" stroke="#666" stroke-width="0.9"/>
<line x1="504.30" y1="202.85" x2="513.20" y2="202.85" stroke="#666" stroke-width="0.9"/>
<line x1="504.30" y1="239.42" x2="510.40" y2="239.42" stroke="#666" stroke-width="0.9"/>
<line x1="499.50" y1="168.51" x2="499.50" y2="221.13" stroke="#666" stroke-width="0.9"/>
<line x1="499.50" y1="168.51" x2="505.10" y2="168.51" stroke="#666" stroke-width="0.9"/>
<line x1="499.50" y1="221.13" x2="504.30" y2="221.13" stroke="#666" stroke-width="0.9"/>
<line x1="492.50" y1="107.75" x2="492.50" y2="194.82" stroke="#666" stroke-width="0.9"/>
<line x1="492.50" y1="107.75" x2="502.40" y2="107.75" stroke="#666" stroke-width="0.9"/>
<line x1="492.50" y1="194.82" x2="499.50" y2="194.82" stroke="#666" stroke-width="0.9"/>
<defs><linearGradient id="cb" x1="0" x2="0" y1="0" y2="1"><stop offset="0.00" stop-color="#67001F"/><stop offset="0.10" stop-color="#B2182B"/><stop offset="0.20" stop-color="#D6604D"/><stop offset="0.30" stop-color="#F4A582"/><stop offset="0.40" stop-color="#FDDBC7"/><stop offset="0.50" stop-color="#F7F7F7"/><stop offset="0.60" stop-color="#D1E5F0"/><stop offset="0.70" stop-color="#92C5DE"/><stop offset="0.80" stop-color="#4393C3"/><stop offset="0.90" stop-color="#2166AC"/><stop offset="1.00" stop-color="#053061"/></linearGradient></defs>
<rect x="648.20" y="52.00" width="4.70" height="78.20" fill="url(#cb)" />
<text x="655.00" y="61.90" font-size="5.6" text-anchor="start" fill="#222" >1.5</text>
<text x="655.00" y="72.35" font-size="5.6" text-anchor="start" fill="#222" >1</text>
<text x="655.00" y="82.80" font-size="5.6" text-anchor="start" fill="#222" >0.5</text>
<text x="655.00" y="93.25" font-size="5.6" text-anchor="start" fill="#222" >0</text>
<text x="655.00" y="103.70" font-size="5.6" text-anchor="start" fill="#222" >-0.5</text>
<text x="655.00" y="114.15" font-size="5.6" text-anchor="start" fill="#222" >-1</text>
<text x="655.00" y="124.60" font-size="5.6" text-anchor="start" fill="#222" >-1.5</text>
<text x="666.00" y="55.60" font-size="5.6" text-anchor="start" fill="#000" font-weight="bold" >Mouse</text>
<rect x="666.20" y="57.20" width="7.60" height="7.60" fill="#F3DD14" stroke="#999" stroke-width="0.4" />
<rect x="666.20" y="64.80" width="7.60" height="7.40" fill="#4DBE0E" stroke="#999" stroke-width="0.4" />
<text x="675.00" y="63.00" font-size="5.6" text-anchor="start" fill="#222" >A4</text>
<text x="675.00" y="70.50" font-size="5.6" text-anchor="start" fill="#222" >BL6</text>
<text x="666.00" y="81.90" font-size="5.6" text-anchor="start" fill="#000" font-weight="bold" >Cell</text>
<rect x="666.20" y="83.10" width="7.60" height="7.70" fill="#6E9EF5" stroke="#999" stroke-width="0.4" />
<rect x="666.20" y="90.80" width="7.60" height="7.40" fill="#F8801C" stroke="#999" stroke-width="0.4" />
<rect x="666.20" y="98.20" width="7.60" height="7.70" fill="#F068B4" stroke="#999" stroke-width="0.4" />
<text x="675.00" y="89.00" font-size="5.6" text-anchor="start" fill="#222" >B</text>
<text x="675.00" y="96.50" font-size="5.6" text-anchor="start" fill="#222" >BF</text>
<text x="675.00" y="104.00" font-size="5.6" text-anchor="start" fill="#222" >EF</text>
<text x="8.60" y="293.80" font-size="14.8" text-anchor="start" fill="#000" font-weight="bold" >d</text>
<line x1="40.70" y1="347.00" x2="40.70" y2="463.10" stroke="#111" stroke-width="1.3"/>
<line x1="40.10" y1="463.00" x2="117.00" y2="463.00" stroke="#222" stroke-width="1.4"/>
<line x1="36.00" y1="463.00" x2="40.70" y2="463.00" stroke="#333" stroke-width="1.2"/>
<text x="35.00" y="466.20" font-size="8.8" text-anchor="end" fill="#222" font-weight="bold" >0</text>
<line x1="36.00" y1="439.95" x2="40.70" y2="439.95" stroke="#333" stroke-width="1.2"/>
<text x="35.00" y="443.15" font-size="8.8" text-anchor="end" fill="#222" font-weight="bold" >1</text>
<line x1="36.00" y1="416.90" x2="40.70" y2="416.90" stroke="#333" stroke-width="1.2"/>
<text x="35.00" y="420.10" font-size="8.8" text-anchor="end" fill="#222" font-weight="bold" >2</text>
<line x1="36.00" y1="393.85" x2="40.70" y2="393.85" stroke="#333" stroke-width="1.2"/>
<text x="35.00" y="397.05" font-size="8.8" text-anchor="end" fill="#222" font-weight="bold" >3</text>
<line x1="36.00" y1="370.80" x2="40.70" y2="370.80" stroke="#333" stroke-width="1.2"/>
<text x="35.00" y="374.00" font-size="8.8" text-anchor="end" fill="#222" font-weight="bold" >4</text>
<line x1="36.00" y1="347.75" x2="40.70" y2="347.75" stroke="#333" stroke-width="1.2"/>
<text x="35.00" y="350.95" font-size="8.8" text-anchor="end" fill="#222" font-weight="bold" >5</text>
<line x1="79.00" y1="463.00" x2="79.00" y2="465.10" stroke="#111" stroke-width="1.0"/>
<text transform="translate(24.3,404.4) rotate(-90)" font-size="9.25" font-style="italic" text-anchor="middle" fill="#222">Lrig1 expression</text>
<line x1="56.10" y1="426.12" x2="56.10" y2="444.56" stroke="#000" stroke-width="1.6"/>
<line x1="52.50" y1="426.12" x2="59.70" y2="426.12" stroke="#000" stroke-width="1.6"/>
<line x1="52.50" y1="444.56" x2="59.70" y2="444.56" stroke="#000" stroke-width="1.6"/>
<line x1="48.50" y1="435.34" x2="63.70" y2="435.34" stroke="#000" stroke-width="1.6"/>
<circle cx="56.1" cy="426.12" r="2.0" fill="#000"/>
<circle cx="56.1" cy="444.56" r="2.0" fill="#000"/>
<circle cx="56.1" cy="435.34" r="2.0" fill="#000"/>
<line x1="79.00" y1="405.38" x2="79.00" y2="418.51" stroke="#1448FF" stroke-width="1.6"/>
<line x1="74.60" y1="405.38" x2="83.40" y2="405.38" stroke="#1448FF" stroke-width="1.6"/>
<line x1="74.60" y1="418.51" x2="83.40" y2="418.51" stroke="#1448FF" stroke-width="1.6"/>
<line x1="72.25" y1="416.90" x2="85.75" y2="416.90" stroke="#1448FF" stroke-width="1.6"/>
<circle cx="79.0" cy="405.38" r="2.0" fill="#1448FF"/>
<circle cx="73.2" cy="418.74" r="2.0" fill="#1448FF"/>
<circle cx="84.8" cy="416.44" r="2.0" fill="#1448FF"/>
<circle cx="79.0" cy="417.59" r="2.0" fill="#1448FF"/>
<line x1="101.60" y1="356.97" x2="101.60" y2="396.15" stroke="#FF2A10" stroke-width="1.6"/>
<line x1="97.45" y1="356.97" x2="105.75" y2="356.97" stroke="#FF2A10" stroke-width="1.6"/>
<line x1="97.45" y1="396.15" x2="105.75" y2="396.15" stroke="#FF2A10" stroke-width="1.6"/>
<line x1="93.85" y1="382.32" x2="109.35" y2="382.32" stroke="#FF2A10" stroke-width="1.6"/>
<circle cx="101.6" cy="356.97" r="1.9" fill="#FF2A10"/>
<circle cx="101.6" cy="396.15" r="1.9" fill="#FF2A10"/>
<circle cx="101.6" cy="382.32" r="1.9" fill="#FF2A10"/>
<text x="79.00" y="399.00" font-size="9" text-anchor="middle" fill="#222" font-weight="bold" >*</text>
<text x="101.60" y="350.20" font-size="9" text-anchor="middle" fill="#222" font-weight="bold" >**</text>
<rect x="142.90" y="352.00" width="13.90" height="8.00" fill="#000" />
<rect x="142.90" y="367.80" width="13.90" height="7.90" fill="#1448FF" />
<rect x="142.90" y="383.50" width="13.90" height="8.20" fill="#FF2A10" />
<text x="163.00" y="359.10" font-size="9.1" text-anchor="start" fill="#222" >EGF/FGF</text>
<text x="163.00" y="374.90" font-size="9.1" text-anchor="start" fill="#222" >BMP</text>
<text x="163.00" y="390.60" font-size="9.1" text-anchor="start" fill="#222" >BMP/FGF</text>
<text x="228.50" y="293.10" font-size="14.2" text-anchor="start" fill="#000" font-weight="bold" >e</text>
<polygon points="298.0,445.4 303.0,444.2 307.8,432.7 311.9,421.7 316.0,402.5 319.5,384.7 322.9,368.3 326.3,357.3 328.5,352.5 330.1,350.8 332.0,353.5 333.8,358.7 337.3,369.7 339.5,380.0 342.7,398.0 346.0,410.0 349.0,418.0 351.6,424.5 354.0,430.5 357.1,438.2 360.0,442.5 362.6,444.3 366.0,445.4" fill="#A9A9A9"/>
<polygon points="282.0,445.4 288.0,444.2 292.7,442.3 298.2,438.2 303.0,434.7 306.0,434.2 309.2,434.0 312.0,434.5 314.7,435.4 317.0,433.6 320.1,431.3 324.9,427.2 328.4,417.6 331.1,405.3 333.8,394.3 337.3,383.4 339.6,376.5 341.8,371.7 343.5,371.0 344.8,371.3 346.3,371.0 347.5,373.1 350.3,380.6 352.7,390.2 355.8,405.3 359.9,421.7 364.0,434.0 367.0,440.5 369.5,443.6 373.0,445.4" fill="#0000FF" fill-opacity="0.55"/>
<polygon points="284.0,445.4 298.2,443.9 306.4,442.3 314.7,440.9 320.1,438.2 325.6,434.0 331.1,425.8 336.6,414.9 342.1,406.6 347.5,398.4 353.0,390.9 355.5,389.5 358.5,389.1 360.5,390.5 362.6,394.3 366.0,402.5 369.5,413.5 372.2,423.1 374.9,431.3 378.4,439.5 381.0,443.0 383.2,444.3 387.0,445.4" fill="#FF0000" fill-opacity="0.58"/>
<rect x="233.3" y="350.5" width="231.3" height="94.89999999999998" fill="none" stroke="#8a8a8a" stroke-width="0.8"/>
<line x1="230.10" y1="445.40" x2="233.30" y2="445.40" stroke="#777" stroke-width="0.6"/>
<line x1="231.50" y1="442.16" x2="233.30" y2="442.16" stroke="#777" stroke-width="0.6"/>
<line x1="231.50" y1="438.92" x2="233.30" y2="438.92" stroke="#777" stroke-width="0.6"/>
<line x1="231.50" y1="435.68" x2="233.30" y2="435.68" stroke="#777" stroke-width="0.6"/>
<line x1="231.50" y1="432.44" x2="233.30" y2="432.44" stroke="#777" stroke-width="0.6"/>
<line x1="230.10" y1="429.20" x2="233.30" y2="429.20" stroke="#777" stroke-width="0.6"/>
<line x1="231.50" y1="425.96" x2="233.30" y2="425.96" stroke="#777" stroke-width="0.6"/>
<line x1="231.50" y1="422.72" x2="233.30" y2="422.72" stroke="#777" stroke-width="0.6"/>
<line x1="231.50" y1="419.48" x2="233.30" y2="419.48" stroke="#777" stroke-width="0.6"/>
<line x1="231.50" y1="416.24" x2="233.30" y2="416.24" stroke="#777" stroke-width="0.6"/>
<line x1="230.10" y1="413.00" x2="233.30" y2="413.00" stroke="#777" stroke-width="0.6"/>
<line x1="231.50" y1="409.76" x2="233.30" y2="409.76" stroke="#777" stroke-width="0.6"/>
<line x1="231.50" y1="406.52" x2="233.30" y2="406.52" stroke="#777" stroke-width="0.6"/>
<line x1="231.50" y1="403.28" x2="233.30" y2="403.28" stroke="#777" stroke-width="0.6"/>
<line x1="231.50" y1="400.04" x2="233.30" y2="400.04" stroke="#777" stroke-width="0.6"/>
<line x1="230.10" y1="396.80" x2="233.30" y2="396.80" stroke="#777" stroke-width="0.6"/>
<line x1="231.50" y1="393.56" x2="233.30" y2="393.56" stroke="#777" stroke-width="0.6"/>
<line x1="231.50" y1="390.32" x2="233.30" y2="390.32" stroke="#777" stroke-width="0.6"/>
<line x1="231.50" y1="387.08" x2="233.30" y2="387.08" stroke="#777" stroke-width="0.6"/>
<line x1="231.50" y1="383.84" x2="233.30" y2="383.84" stroke="#777" stroke-width="0.6"/>
<line x1="230.10" y1="380.60" x2="233.30" y2="380.60" stroke="#777" stroke-width="0.6"/>
<line x1="231.50" y1="377.36" x2="233.30" y2="377.36" stroke="#777" stroke-width="0.6"/>
<line x1="231.50" y1="374.12" x2="233.30" y2="374.12" stroke="#777" stroke-width="0.6"/>
<line x1="231.50" y1="370.88" x2="233.30" y2="370.88" stroke="#777" stroke-width="0.6"/>
<line x1="231.50" y1="367.64" x2="233.30" y2="367.64" stroke="#777" stroke-width="0.6"/>
<line x1="230.10" y1="364.40" x2="233.30" y2="364.40" stroke="#777" stroke-width="0.6"/>
<line x1="231.50" y1="361.16" x2="233.30" y2="361.16" stroke="#777" stroke-width="0.6"/>
<line x1="231.50" y1="357.92" x2="233.30" y2="357.92" stroke="#777" stroke-width="0.6"/>
<line x1="231.50" y1="354.68" x2="233.30" y2="354.68" stroke="#777" stroke-width="0.6"/>
<line x1="231.50" y1="351.44" x2="233.30" y2="351.44" stroke="#777" stroke-width="0.6"/>
<text transform="translate(231.2,429.2) rotate(-90)" font-size="3" text-anchor="middle" fill="#666">200</text>
<text transform="translate(231.2,413.0) rotate(-90)" font-size="3" text-anchor="middle" fill="#666">400</text>
<text transform="translate(231.2,396.8) rotate(-90)" font-size="3" text-anchor="middle" fill="#666">600</text>
<text transform="translate(231.2,380.6) rotate(-90)" font-size="3" text-anchor="middle" fill="#666">800</text>
<text transform="translate(231.2,364.4) rotate(-90)" font-size="3" text-anchor="middle" fill="#666">1000</text>
<line x1="236.03" y1="445.40" x2="236.03" y2="447.20" stroke="#777" stroke-width="0.6"/>
<line x1="243.24" y1="445.40" x2="243.24" y2="447.20" stroke="#777" stroke-width="0.6"/>
<line x1="248.83" y1="445.40" x2="248.83" y2="447.20" stroke="#777" stroke-width="0.6"/>
<line x1="253.40" y1="445.40" x2="253.40" y2="447.20" stroke="#777" stroke-width="0.6"/>
<line x1="257.26" y1="445.40" x2="257.26" y2="447.20" stroke="#777" stroke-width="0.6"/>
<line x1="260.61" y1="445.40" x2="260.61" y2="447.20" stroke="#777" stroke-width="0.6"/>
<line x1="263.56" y1="445.40" x2="263.56" y2="447.20" stroke="#777" stroke-width="0.6"/>
<line x1="266.20" y1="445.40" x2="266.20" y2="448.40" stroke="#777" stroke-width="0.6"/>
<line x1="283.57" y1="445.40" x2="283.57" y2="447.20" stroke="#777" stroke-width="0.6"/>
<line x1="293.73" y1="445.40" x2="293.73" y2="447.20" stroke="#777" stroke-width="0.6"/>
<line x1="300.94" y1="445.40" x2="300.94" y2="447.20" stroke="#777" stroke-width="0.6"/>
<line x1="306.53" y1="445.40" x2="306.53" y2="447.20" stroke="#777" stroke-width="0.6"/>
<line x1="311.10" y1="445.40" x2="311.10" y2="447.20" stroke="#777" stroke-width="0.6"/>
<line x1="314.96" y1="445.40" x2="314.96" y2="447.20" stroke="#777" stroke-width="0.6"/>
<line x1="318.31" y1="445.40" x2="318.31" y2="447.20" stroke="#777" stroke-width="0.6"/>
<line x1="321.26" y1="445.40" x2="321.26" y2="447.20" stroke="#777" stroke-width="0.6"/>
<line x1="323.90" y1="445.40" x2="323.90" y2="448.40" stroke="#777" stroke-width="0.6"/>
<line x1="341.27" y1="445.40" x2="341.27" y2="447.20" stroke="#777" stroke-width="0.6"/>
<line x1="351.43" y1="445.40" x2="351.43" y2="447.20" stroke="#777" stroke-width="0.6"/>
<line x1="358.64" y1="445.40" x2="358.64" y2="447.20" stroke="#777" stroke-width="0.6"/>
<line x1="364.23" y1="445.40" x2="364.23" y2="447.20" stroke="#777" stroke-width="0.6"/>
<line x1="368.80" y1="445.40" x2="368.80" y2="447.20" stroke="#777" stroke-width="0.6"/>
<line x1="372.66" y1="445.40" x2="372.66" y2="447.20" stroke="#777" stroke-width="0.6"/>
<line x1="376.01" y1="445.40" x2="376.01" y2="447.20" stroke="#777" stroke-width="0.6"/>
<line x1="378.96" y1="445.40" x2="378.96" y2="447.20" stroke="#777" stroke-width="0.6"/>
<line x1="381.60" y1="445.40" x2="381.60" y2="448.40" stroke="#777" stroke-width="0.6"/>
<line x1="398.97" y1="445.40" x2="398.97" y2="447.20" stroke="#777" stroke-width="0.6"/>
<line x1="409.13" y1="445.40" x2="409.13" y2="447.20" stroke="#777" stroke-width="0.6"/>
<line x1="416.34" y1="445.40" x2="416.34" y2="447.20" stroke="#777" stroke-width="0.6"/>
<line x1="421.93" y1="445.40" x2="421.93" y2="447.20" stroke="#777" stroke-width="0.6"/>
<line x1="426.50" y1="445.40" x2="426.50" y2="447.20" stroke="#777" stroke-width="0.6"/>
<line x1="430.36" y1="445.40" x2="430.36" y2="447.20" stroke="#777" stroke-width="0.6"/>
<line x1="433.71" y1="445.40" x2="433.71" y2="447.20" stroke="#777" stroke-width="0.6"/>
<line x1="436.66" y1="445.40" x2="436.66" y2="447.20" stroke="#777" stroke-width="0.6"/>
<line x1="439.30" y1="445.40" x2="439.30" y2="448.40" stroke="#777" stroke-width="0.6"/>
<line x1="456.67" y1="445.40" x2="456.67" y2="447.20" stroke="#777" stroke-width="0.6"/>
<text x="266.2" y="451.2" font-size="3.2" text-anchor="middle" fill="#777">10<tspan dy="-1" font-size="2.2">2</tspan></text>
<text x="323.9" y="451.2" font-size="3.2" text-anchor="middle" fill="#777">10<tspan dy="-1" font-size="2.2">3</tspan></text>
<text x="381.6" y="451.2" font-size="3.2" text-anchor="middle" fill="#777">10<tspan dy="-1" font-size="2.2">4</tspan></text>
<text x="439.3" y="451.2" font-size="3.2" text-anchor="middle" fill="#777">10<tspan dy="-1" font-size="2.2">5</tspan></text>
<text x="240.50" y="361.60" font-size="9.6" text-anchor="start" fill="#222" >MFI</text>
<text x="240.50" y="373.00" font-size="9.6" text-anchor="start" fill="#444" >1231</text>
<text x="240.50" y="384.00" font-size="9.6" text-anchor="start" fill="#2020FF" >2010</text>
<text x="240.50" y="395.20" font-size="9.6" text-anchor="start" fill="#FF2020" >3003</text>
<rect x="387.20" y="358.30" width="5.40" height="5.60" fill="#888" stroke="#111" stroke-width="0.8" />
<text x="398.00" y="363.80" font-size="10.2" text-anchor="start" fill="#222" >EGF/FGF</text>
<rect x="387.20" y="370.00" width="5.40" height="5.60" fill="#1010E0" stroke="#111" stroke-width="0.8" />
<text x="398.00" y="375.50" font-size="10.2" text-anchor="start" fill="#222" >BMP</text>
<rect x="387.20" y="383.10" width="5.40" height="5.60" fill="#EE1010" stroke="#111" stroke-width="0.8" />
<text x="398.00" y="388.60" font-size="10.2" text-anchor="start" fill="#222" >BMP/FGF</text>
<text transform="translate(223.3,401.8) rotate(-90)" font-size="9.1" text-anchor="middle" fill="#222">Counts</text>
<text x="352.00" y="463.90" font-size="9.4" text-anchor="middle" fill="#222" >LRIG1-Alexa 488</text>
<text x="453.40" y="292.80" font-size="14.5" text-anchor="start" fill="#000" font-weight="bold" >f</text>
<text transform="translate(519.6,326.0) rotate(-45)" font-size="9.4" fill="#222">EGF/FGF</text>
<text transform="translate(539.4,326.0) rotate(-45)" font-size="9.4" fill="#222">BMP</text>
<text transform="translate(555.6,328.4) rotate(-45)" font-size="9.4" fill="#222">FGF/BMP</text>
<rect x="509.40" y="333.40" width="60.80" height="24.80" fill="#A8A8A8"/>
<rect x="515.10" y="343.80" width="11.00" height="2.40" rx="1.20" fill="#202020" fill-opacity="0.9" filter="url(#bl1)"/>
<rect x="533.20" y="342.80" width="12.00" height="3.00" rx="1.50" fill="#151515" fill-opacity="0.95" filter="url(#bl1)"/>
<rect x="551.90" y="341.20" width="13.00" height="5.60" rx="2.50" fill="#000" fill-opacity="1.0" filter="url(#bl1)"/>
<rect x="509.40" y="333.40" width="60.80" height="24.80" fill="none" stroke="#282828" stroke-width="1.1"/>
<rect x="509.60" y="360.30" width="60.80" height="26.20" fill="#A7A7A7"/>
<rect x="513.40" y="370.30" width="12.00" height="3.80" rx="1.90" fill="#101010" fill-opacity="0.9" filter="url(#bl1)"/>
<rect x="509.60" y="360.30" width="60.80" height="26.20" fill="none" stroke="#282828" stroke-width="1.1"/>
<rect x="510.00" y="390.00" width="60.80" height="68.30" fill="#828282"/>
<rect x="555.5" y="401.2" width="10" height="2.6" rx="1.2" fill="#181818" fill-opacity="0.9" filter="url(#bl1)" transform="rotate(-12 560.5 402.5)"/>
<rect x="510.00" y="390.00" width="60.80" height="68.30" fill="none" stroke="#282828" stroke-width="1.1"/>
<rect x="510.00" y="460.30" width="60.80" height="23.70" fill="#B0B0B0"/>
<rect x="512.45" y="470.00" width="14.50" height="6.60" rx="2.50" fill="#141414" fill-opacity="1.0" filter="url(#bl1)"/>
<rect x="530.25" y="469.60" width="14.50" height="6.60" rx="2.50" fill="#141414" fill-opacity="1.0" filter="url(#bl1)"/>
<rect x="547.40" y="469.30" width="14.00" height="6.20" rx="2.50" fill="#141414" fill-opacity="1.0" filter="url(#bl1)"/>
<rect x="510.00" y="460.30" width="60.80" height="23.70" fill="none" stroke="#282828" stroke-width="1.1"/>
<text x="574.50" y="350.70" font-size="9.3" text-anchor="start" fill="#222" >EGFR (180 kDa)</text>
<text x="574.00" y="380.00" font-size="9.3" text-anchor="start" fill="#222" >EGFR (Tyr1068) (175 kDa)</text>
<text x="576.20" y="415.70" font-size="9.3" text-anchor="start" fill="#222" >LRIG1 (140 kDa)</text>
<text x="575.00" y="477.00" font-size="9.3" text-anchor="start" fill="#222" >GAPDH (36 kDa)</text>
<text x="9.00" y="500.70" font-size="14" text-anchor="start" fill="#000" font-weight="bold" >g</text>
<text x="125.30" y="522.60" font-size="10.3" text-anchor="middle" fill="#222" >3 days in each condition</text>
<line x1="26.70" y1="524.90" x2="218.40" y2="524.90" stroke="#333" stroke-width="1.3"/>
<text x="73.80" y="540.70" font-size="9.6" text-anchor="middle" fill="#222" >BMP/FGF</text>
<text x="172.60" y="540.70" font-size="9.6" text-anchor="middle" fill="#222" >BMP</text>
<line x1="26.70" y1="543.10" x2="118.80" y2="543.10" stroke="#333" stroke-width="1.3"/>
<line x1="126.30" y1="543.10" x2="218.40" y2="543.10" stroke="#333" stroke-width="1.3"/>
<text transform="translate(38.2,595.1) rotate(-90)" font-size="9.4" fill="#222">Control</text>
<text transform="translate(58.4,601.9) rotate(-90)" font-size="9.4" fill="#222">Wortmannin</text>
<text transform="translate(77.0,601.9) rotate(-90)" font-size="9.4" fill="#222">GSK</text>
<text transform="translate(97.9,601.9) rotate(-90)" font-size="9.4" fill="#222">PD0325901</text>
<text transform="translate(118.3,601.9) rotate(-90)" font-size="9.4" fill="#222">Tofacitinib</text>
<text transform="translate(136.1,601.8) rotate(-90)" font-size="9.4" fill="#222">Control</text>
<text transform="translate(154.5,601.8) rotate(-90)" font-size="9.4" fill="#222">Wortmannin</text>
<text transform="translate(173.0,601.8) rotate(-90)" font-size="9.4" fill="#222">GSK</text>
<text transform="translate(192.3,601.8) rotate(-90)" font-size="9.4" fill="#222">PD0325901</text>
<text transform="translate(213.1,601.8) rotate(-90)" font-size="9.4" fill="#222">Tofacitinib</text>
<rect x="29.40" y="606.60" width="191.10" height="25.80" fill="#A4A4A4"/>
<rect x="31.30" y="617.50" width="14.60" height="3.00" rx="1.50" fill="#262626" fill-opacity="0.95" filter="url(#bl1)"/>
<rect x="49.70" y="617.50" width="14.60" height="3.00" rx="1.50" fill="#262626" fill-opacity="0.95" filter="url(#bl1)"/>
<rect x="68.80" y="617.50" width="14.60" height="3.00" rx="1.50" fill="#262626" fill-opacity="0.95" filter="url(#bl1)"/>
<rect x="29.1" y="606.6" width="191.4" height="7" fill="#B4B4B4" fill-opacity="0.6" filter="url(#bl2)"/><ellipse cx="207" cy="623" rx="10" ry="7" fill="#8C8C8C" fill-opacity="0.6" filter="url(#bl2)"/><ellipse cx="213" cy="610" rx="7" ry="3.5" fill="#C0C0C0" fill-opacity="0.8" filter="url(#bl2)"/><ellipse cx="185.2" cy="612.8" rx="2.0" ry="2.2" fill="#1A1A1A" filter="url(#bl05)"/>
<rect x="29.40" y="606.60" width="191.10" height="25.80" fill="none" stroke="#282828" stroke-width="1.1"/>
<rect x="29.40" y="637.20" width="191.10" height="24.10" fill="#959595"/>
<rect x="68.95" y="648.80" width="14.50" height="2.20" rx="1.10" fill="#383838" fill-opacity="0.9" filter="url(#bl05)"/>
<rect x="163.65" y="647.20" width="15.50" height="2.20" rx="1.10" fill="#383838" fill-opacity="0.9" filter="url(#bl05)"/>
<rect x="29.40" y="637.20" width="191.10" height="24.10" fill="none" stroke="#282828" stroke-width="1.1"/>
<rect x="29.40" y="666.10" width="191.10" height="32.00" fill="#979797"/>
<rect x="31.10" y="678.50" width="15.00" height="3.00" rx="1.50" fill="#606060" fill-opacity="0.95" filter="url(#bl1)"/>
<rect x="30.85" y="686.40" width="15.50" height="4.00" rx="2.00" fill="#404040" fill-opacity="0.95" filter="url(#bl1)"/>
<rect x="49.50" y="678.17" width="15.00" height="3.00" rx="1.50" fill="#808080" fill-opacity="0.95" filter="url(#bl1)"/>
<rect x="49.25" y="686.07" width="15.50" height="4.00" rx="2.00" fill="#101010" fill-opacity="0.95" filter="url(#bl1)"/>
<rect x="68.60" y="677.83" width="15.00" height="3.00" rx="1.50" fill="#303030" fill-opacity="0.95" filter="url(#bl1)"/>
<rect x="68.35" y="685.73" width="15.50" height="4.00" rx="2.00" fill="#050505" fill-opacity="0.95" filter="url(#bl1)"/>
<rect x="87.10" y="677.50" width="15.00" height="3.00" rx="1.50" fill="#858585" fill-opacity="0.95" filter="url(#bl1)"/>
<rect x="86.85" y="685.40" width="15.50" height="4.00" rx="2.00" fill="#707070" fill-opacity="0.95" filter="url(#bl1)"/>
<rect x="105.50" y="677.17" width="15.00" height="3.00" rx="1.50" fill="#585858" fill-opacity="0.95" filter="url(#bl1)"/>
<rect x="105.25" y="685.07" width="15.50" height="4.00" rx="2.00" fill="#505050" fill-opacity="0.95" filter="url(#bl1)"/>
<rect x="124.30" y="676.83" width="15.00" height="3.00" rx="1.50" fill="#606060" fill-opacity="0.95" filter="url(#bl1)"/>
<rect x="124.05" y="684.73" width="15.50" height="4.00" rx="2.00" fill="#454545" fill-opacity="0.95" filter="url(#bl1)"/>
<rect x="143.30" y="676.50" width="15.00" height="3.00" rx="1.50" fill="#707070" fill-opacity="0.95" filter="url(#bl1)"/>
<rect x="143.05" y="684.40" width="15.50" height="4.00" rx="2.00" fill="#555555" fill-opacity="0.95" filter="url(#bl1)"/>
<rect x="163.40" y="676.17" width="15.00" height="3.00" rx="1.50" fill="#101010" fill-opacity="0.95" filter="url(#bl1)"/>
<rect x="163.15" y="684.07" width="15.50" height="4.00" rx="2.00" fill="#000000" fill-opacity="0.95" filter="url(#bl1)"/>
<rect x="181.70" y="675.83" width="15.00" height="3.00" rx="1.50" fill="#8C8C8C" fill-opacity="0.95" filter="url(#bl1)"/>
<rect x="181.45" y="683.73" width="15.50" height="4.00" rx="2.00" fill="#8C8C8C" fill-opacity="0.95" filter="url(#bl1)"/>
<rect x="201.50" y="675.50" width="15.00" height="3.00" rx="1.50" fill="#808080" fill-opacity="0.95" filter="url(#bl1)"/>
<rect x="201.25" y="683.40" width="15.50" height="4.00" rx="2.00" fill="#666666" fill-opacity="0.95" filter="url(#bl1)"/>
<rect x="29.40" y="666.10" width="191.10" height="32.00" fill="none" stroke="#282828" stroke-width="1.1"/>
<rect x="29.40" y="702.40" width="191.10" height="22.40" fill="#7C7C7C"/>
<rect x="31.35" y="713.10" width="14.50" height="3.00" rx="1.50" fill="#282828" fill-opacity="0.95" filter="url(#bl1)"/>
<rect x="49.75" y="713.10" width="14.50" height="3.00" rx="1.50" fill="#282828" fill-opacity="0.95" filter="url(#bl1)"/>
<rect x="68.85" y="713.10" width="14.50" height="3.00" rx="1.50" fill="#303030" fill-opacity="0.95" filter="url(#bl1)"/>
<rect x="87.35" y="713.10" width="14.50" height="3.00" rx="1.50" fill="#282828" fill-opacity="0.95" filter="url(#bl1)"/>
<rect x="105.75" y="713.10" width="14.50" height="3.00" rx="1.50" fill="#484848" fill-opacity="0.95" filter="url(#bl1)"/>
<rect x="124.55" y="713.10" width="14.50" height="3.00" rx="1.50" fill="#101010" fill-opacity="0.95" filter="url(#bl1)"/>
<rect x="143.55" y="713.10" width="14.50" height="3.00" rx="1.50" fill="#383838" fill-opacity="0.95" filter="url(#bl1)"/>
<rect x="163.65" y="713.10" width="14.50" height="3.00" rx="1.50" fill="#202020" fill-opacity="0.95" filter="url(#bl1)"/>
<rect x="181.95" y="713.10" width="14.50" height="3.00" rx="1.50" fill="#404040" fill-opacity="0.95" filter="url(#bl1)"/>
<rect x="201.75" y="713.10" width="14.50" height="3.00" rx="1.50" fill="#585858" fill-opacity="0.95" filter="url(#bl1)"/>
<rect x="29.40" y="702.40" width="191.10" height="22.40" fill="none" stroke="#282828" stroke-width="1.1"/>
<text x="226.40" y="622.80" font-size="9.5" text-anchor="start" fill="#222" >LRIG1 (140 kDa)</text>
<text x="226.40" y="652.30" font-size="9.5" text-anchor="start" fill="#222" >pAKT (60 kDa)</text>
<text x="226.40" y="683.00" font-size="9.5" text-anchor="start" fill="#222" >ppERK1/2 (42-44 kDa)</text>
<text x="224.10" y="716.20" font-size="9.5" text-anchor="start" fill="#222" >GAPDH (36 kDa)</text>
<text x="339.20" y="501.60" font-size="14.4" text-anchor="start" fill="#000" font-weight="bold" >h</text>
<text x="415.90" y="512.30" font-size="9.2" text-anchor="middle" fill="#222" >FGF/BMP</text>
<text x="515.20" y="511.80" font-size="9.0" text-anchor="middle" fill="#222" >BMP</text>
<text x="374.50" y="528.30" font-size="9.0" text-anchor="middle" fill="#222" >0</text>
<text x="393.10" y="528.30" font-size="9.0" text-anchor="middle" fill="#222" >2</text>
<text x="408.70" y="528.30" font-size="9.0" text-anchor="middle" fill="#222" >4</text>
<text x="424.80" y="528.30" font-size="9.0" text-anchor="middle" fill="#222" >8</text>
<text x="437.70" y="528.30" font-size="9.0" text-anchor="middle" fill="#222" >24</text>
<text x="453.50" y="528.30" font-size="9.0" text-anchor="middle" fill="#222" >48</text>
<text x="472.20" y="527.80" font-size="9.0" text-anchor="middle" fill="#222" >0</text>
<text x="490.60" y="527.80" font-size="9.0" text-anchor="middle" fill="#222" >2</text>
<text x="506.00" y="527.80" font-size="9.0" text-anchor="middle" fill="#222" >4</text>
<text x="521.80" y="527.80" font-size="9.0" text-anchor="middle" fill="#222" >8</text>
<text x="534.90" y="527.80" font-size="9.0" text-anchor="middle" fill="#222" >24</text>
<text x="551.00" y="527.80" font-size="9.0" text-anchor="middle" fill="#222" >48</text>
<text x="570.3" y="528.0" font-size="9.4" fill="#222">Time <tspan font-style="italic">(hours</tspan>)</text>
<rect x="366.10" y="533.60" width="97.50" height="22.00" fill="#7F8084"/>
<rect x="369.25" y="542.20" width="14.50" height="9.00" rx="2.50" fill="#181818" fill-opacity="1.0" filter="url(#bl2)"/>
<rect x="385.65" y="542.70" width="14.50" height="8.00" rx="2.50" fill="#1C1C1C" fill-opacity="1.0" filter="url(#bl2)"/>
<rect x="401.35" y="542.70" width="14.50" height="8.00" rx="2.50" fill="#1C1C1C" fill-opacity="1.0" filter="url(#bl2)"/>
<rect x="416.65" y="542.20" width="14.50" height="9.00" rx="2.50" fill="#141414" fill-opacity="1.0" filter="url(#bl2)"/>
<rect x="431.85" y="543.20" width="14.50" height="7.00" rx="2.50" fill="#282828" fill-opacity="1.0" filter="url(#bl2)"/>
<rect x="448.45" y="544.20" width="13.50" height="5.00" rx="2.50" fill="#707070" fill-opacity="1.0" filter="url(#bl2)"/>
<rect x="366.10" y="533.60" width="97.50" height="22.00" fill="none" stroke="#282828" stroke-width="1.1"/>
<rect x="468.40" y="533.30" width="97.30" height="20.10" fill="#6C6D71"/>
<rect x="470.05" y="540.20" width="13.50" height="8.00" rx="2.50" fill="#181818" fill-opacity="1.0" filter="url(#bl2)"/>
<rect x="484.95" y="540.20" width="13.50" height="8.00" rx="2.50" fill="#181818" fill-opacity="1.0" filter="url(#bl2)"/>
<rect x="500.65" y="540.20" width="13.50" height="8.00" rx="2.50" fill="#101010" fill-opacity="1.0" filter="url(#bl2)"/>
<rect x="516.25" y="540.20" width="13.50" height="8.00" rx="2.50" fill="#181818" fill-opacity="1.0" filter="url(#bl2)"/>
<rect x="532.35" y="540.95" width="13.50" height="6.50" rx="2.50" fill="#505050" fill-opacity="1.0" filter="url(#bl2)"/>
<rect x="468.40" y="533.30" width="97.30" height="20.10" fill="none" stroke="#282828" stroke-width="1.1"/>
<rect x="365.30" y="560.10" width="97.50" height="22.20" fill="#A2A3A7"/>
<rect x="383.95" y="570.80" width="11.50" height="1.80" rx="0.90" fill="#707070" fill-opacity="0.9" filter="url(#bl1)"/>
<rect x="399.55" y="570.80" width="11.50" height="1.80" rx="0.90" fill="#606060" fill-opacity="0.9" filter="url(#bl1)"/>
<rect x="414.45" y="570.80" width="11.50" height="1.80" rx="0.90" fill="#505050" fill-opacity="0.9" filter="url(#bl1)"/>
<rect x="429.75" y="570.80" width="11.50" height="1.80" rx="0.90" fill="#989898" fill-opacity="0.9" filter="url(#bl1)"/>
<rect x="365.30" y="560.10" width="97.50" height="22.20" fill="none" stroke="#282828" stroke-width="1.1"/>
<rect x="467.50" y="559.60" width="97.40" height="19.00" fill="#A4A5A9"/>
<rect x="485.15" y="569.20" width="11.50" height="1.80" rx="0.90" fill="#808080" fill-opacity="0.9" filter="url(#bl1)"/>
<rect x="500.35" y="569.20" width="11.50" height="1.80" rx="0.90" fill="#808080" fill-opacity="0.9" filter="url(#bl1)"/>
<rect x="515.65" y="569.20" width="11.50" height="1.80" rx="0.90" fill="#808080" fill-opacity="0.9" filter="url(#bl1)"/>
<rect x="531.35" y="569.20" width="11.50" height="1.80" rx="0.90" fill="#A0A0A0" fill-opacity="0.9" filter="url(#bl1)"/>
<rect x="467.50" y="559.60" width="97.40" height="19.00" fill="none" stroke="#282828" stroke-width="1.1"/>
<rect x="365.30" y="585.00" width="97.50" height="22.50" fill="#A8A9AD"/>
<rect x="368.75" y="597.80" width="11.50" height="2.00" rx="1.00" fill="#909090" fill-opacity="0.9" filter="url(#bl1)"/>
<rect x="386.35" y="597.80" width="11.50" height="2.00" rx="1.00" fill="#868686" fill-opacity="0.9" filter="url(#bl1)"/>
<rect x="402.45" y="597.80" width="11.50" height="2.00" rx="1.00" fill="#868686" fill-opacity="0.9" filter="url(#bl1)"/>
<rect x="417.75" y="597.80" width="11.50" height="2.00" rx="1.00" fill="#868686" fill-opacity="0.9" filter="url(#bl1)"/>
<rect x="432.95" y="597.80" width="11.50" height="2.00" rx="1.00" fill="#8C8C8C" fill-opacity="0.9" filter="url(#bl1)"/>
<rect x="448.65" y="597.80" width="11.50" height="2.00" rx="1.00" fill="#989898" fill-opacity="0.9" filter="url(#bl1)"/>
<rect x="365.30" y="585.00" width="97.50" height="22.50" fill="none" stroke="#282828" stroke-width="1.1"/>
<rect x="467.50" y="583.10" width="97.40" height="24.40" fill="#A3A4A8"/>
<rect x="471.05" y="596.00" width="11.50" height="2.00" rx="1.00" fill="#949494" fill-opacity="0.9" filter="url(#bl1)"/>
<rect x="485.95" y="596.00" width="11.50" height="2.00" rx="1.00" fill="#888888" fill-opacity="0.9" filter="url(#bl1)"/>
<rect x="501.65" y="596.00" width="11.50" height="2.00" rx="1.00" fill="#828282" fill-opacity="0.9" filter="url(#bl1)"/>
<rect x="517.25" y="596.00" width="11.50" height="2.00" rx="1.00" fill="#888888" fill-opacity="0.9" filter="url(#bl1)"/>
<rect x="533.35" y="596.00" width="11.50" height="2.00" rx="1.00" fill="#949494" fill-opacity="0.9" filter="url(#bl1)"/>
<rect x="548.45" y="596.00" width="11.50" height="2.00" rx="1.00" fill="#A0A0A0" fill-opacity="0.9" filter="url(#bl1)"/>
<rect x="467.50" y="583.10" width="97.40" height="24.40" fill="none" stroke="#282828" stroke-width="1.1"/>
<rect x="365.30" y="610.30" width="97.50" height="18.50" fill="#A0A1A5"/>
<rect x="368.30" y="617.00" width="14.00" height="6.40" rx="2.50" fill="#101010" fill-opacity="1.0" filter="url(#bl1)"/>
<rect x="384.30" y="617.00" width="14.00" height="6.40" rx="2.50" fill="#101010" fill-opacity="1.0" filter="url(#bl1)"/>
<rect x="400.00" y="617.00" width="14.00" height="6.40" rx="2.50" fill="#101010" fill-opacity="1.0" filter="url(#bl1)"/>
<rect x="415.30" y="617.00" width="14.00" height="6.40" rx="2.50" fill="#101010" fill-opacity="1.0" filter="url(#bl1)"/>
<rect x="430.50" y="617.00" width="14.00" height="6.40" rx="2.50" fill="#181818" fill-opacity="1.0" filter="url(#bl1)"/>
<rect x="445.80" y="617.70" width="14.00" height="5.00" rx="2.50" fill="#383838" fill-opacity="1.0" filter="url(#bl1)"/>
<rect x="365.30" y="610.30" width="97.50" height="18.50" fill="none" stroke="#282828" stroke-width="1.1"/>
<rect x="467.50" y="611.40" width="97.20" height="17.70" fill="#A1A2A6"/>
<rect x="470.95" y="618.40" width="13.50" height="5.80" rx="2.50" fill="#101010" fill-opacity="1.0" filter="url(#bl1)"/>
<rect x="486.85" y="618.40" width="13.50" height="5.80" rx="2.50" fill="#101010" fill-opacity="1.0" filter="url(#bl1)"/>
<rect x="502.25" y="618.40" width="13.50" height="5.80" rx="2.50" fill="#101010" fill-opacity="1.0" filter="url(#bl1)"/>
<rect x="517.45" y="618.40" width="13.50" height="5.80" rx="2.50" fill="#101010" fill-opacity="1.0" filter="url(#bl1)"/>
<rect x="532.65" y="618.40" width="13.50" height="5.80" rx="2.50" fill="#202020" fill-opacity="1.0" filter="url(#bl1)"/>
<rect x="547.95" y="620.05" width="13.50" height="2.50" rx="1.25" fill="#A8A8A8" fill-opacity="1.0" filter="url(#bl1)"/>
<rect x="467.50" y="611.40" width="97.20" height="17.70" fill="none" stroke="#282828" stroke-width="1.1"/>
<rect x="365.30" y="632.30" width="97.50" height="18.80" fill="#9FA0A4"/>
<rect x="368.05" y="637.95" width="14.50" height="7.50" rx="2.50" fill="#181818" fill-opacity="1.0" filter="url(#bl2)"/>
<rect x="384.05" y="639.20" width="14.50" height="5.00" rx="2.50" fill="#686868" fill-opacity="1.0" filter="url(#bl2)"/>
<rect x="399.75" y="638.70" width="14.50" height="6.00" rx="2.50" fill="#484848" fill-opacity="1.0" filter="url(#bl2)"/>
<rect x="415.05" y="638.45" width="14.50" height="6.50" rx="2.50" fill="#383838" fill-opacity="1.0" filter="url(#bl2)"/>
<rect x="430.25" y="638.20" width="14.50" height="7.00" rx="2.50" fill="#202020" fill-opacity="1.0" filter="url(#bl2)"/>
<rect x="445.55" y="639.20" width="14.50" height="5.00" rx="2.50" fill="#787878" fill-opacity="1.0" filter="url(#bl2)"/>
<rect x="365.30" y="632.30" width="97.50" height="18.80" fill="none" stroke="#282828" stroke-width="1.1"/>
<rect x="467.50" y="631.50" width="97.20" height="20.90" fill="#A2A3A7"/>
<rect x="470.95" y="637.00" width="13.50" height="6.00" rx="2.50" fill="#505050" fill-opacity="1.0" filter="url(#bl2)"/>
<rect x="470.95" y="641.75" width="13.50" height="6.50" rx="2.50" fill="#101010" fill-opacity="1.0" filter="url(#bl2)"/>
<rect x="488.10" y="641.50" width="11.00" height="3.00" rx="1.50" fill="#969696" fill-opacity="0.8" filter="url(#bl2)"/>
<rect x="503.50" y="641.50" width="11.00" height="3.00" rx="1.50" fill="#969696" fill-opacity="0.8" filter="url(#bl2)"/>
<rect x="519.10" y="640.75" width="11.00" height="4.50" rx="2.25" fill="#848484" fill-opacity="0.9" filter="url(#bl2)"/>
<rect x="534.45" y="639.00" width="12.50" height="7.00" rx="2.50" fill="#6E6E6E" fill-opacity="0.9" filter="url(#bl2)"/>
<rect x="467.50" y="631.50" width="97.20" height="20.90" fill="none" stroke="#282828" stroke-width="1.1"/>
<rect x="365.30" y="653.70" width="97.50" height="20.70" fill="#9EA0A3"/>
<rect x="367.25" y="659.05" width="14.50" height="5.50" rx="2.50" fill="#303030" fill-opacity="1.0" filter="url(#bl2)"/>
<rect x="367.50" y="666.20" width="14.00" height="4.00" rx="2.00" fill="#505050" fill-opacity="0.95" filter="url(#bl2)"/>
<rect x="384.05" y="659.05" width="14.50" height="5.50" rx="2.50" fill="#303030" fill-opacity="1.0" filter="url(#bl2)"/>
<rect x="384.30" y="666.20" width="14.00" height="4.00" rx="2.00" fill="#404040" fill-opacity="0.95" filter="url(#bl2)"/>
<rect x="400.15" y="659.05" width="14.50" height="5.50" rx="2.50" fill="#303030" fill-opacity="1.0" filter="url(#bl2)"/>
<rect x="400.40" y="666.20" width="14.00" height="4.00" rx="2.00" fill="#505050" fill-opacity="0.95" filter="url(#bl2)"/>
<rect x="416.25" y="659.05" width="14.50" height="5.50" rx="2.50" fill="#303030" fill-opacity="1.0" filter="url(#bl2)"/>
<rect x="416.50" y="666.20" width="14.00" height="4.00" rx="2.00" fill="#505050" fill-opacity="0.95" filter="url(#bl2)"/>
<rect x="432.25" y="659.05" width="14.50" height="5.50" rx="2.50" fill="#343434" fill-opacity="1.0" filter="url(#bl2)"/>
<rect x="432.50" y="666.20" width="14.00" height="4.00" rx="2.00" fill="#707070" fill-opacity="0.95" filter="url(#bl2)"/>
<rect x="447.65" y="659.05" width="14.50" height="5.50" rx="2.50" fill="#505050" fill-opacity="1.0" filter="url(#bl2)"/>
<rect x="447.90" y="666.20" width="14.00" height="4.00" rx="2.00" fill="#888888" fill-opacity="0.95" filter="url(#bl2)"/>
<rect x="365.30" y="653.70" width="97.50" height="20.70" fill="none" stroke="#282828" stroke-width="1.1"/>
<rect x="467.50" y="654.80" width="97.20" height="19.60" fill="#9EA0A3"/>
<rect x="470.45" y="659.05" width="14.50" height="5.50" rx="2.50" fill="#505050" fill-opacity="1.0" filter="url(#bl2)"/>
<rect x="470.70" y="665.95" width="14.00" height="4.50" rx="2.25" fill="#707070" fill-opacity="0.95" filter="url(#bl2)"/>
<rect x="486.35" y="659.05" width="14.50" height="5.50" rx="2.50" fill="#303030" fill-opacity="1.0" filter="url(#bl2)"/>
<rect x="486.60" y="665.95" width="14.00" height="4.50" rx="2.25" fill="#282828" fill-opacity="0.95" filter="url(#bl2)"/>
<rect x="501.75" y="659.05" width="14.50" height="5.50" rx="2.50" fill="#303030" fill-opacity="1.0" filter="url(#bl2)"/>
<rect x="502.00" y="665.95" width="14.00" height="4.50" rx="2.25" fill="#303030" fill-opacity="0.95" filter="url(#bl2)"/>
<rect x="516.95" y="659.05" width="14.50" height="5.50" rx="2.50" fill="#303030" fill-opacity="1.0" filter="url(#bl2)"/>
<rect x="517.20" y="665.95" width="14.00" height="4.50" rx="2.25" fill="#303030" fill-opacity="0.95" filter="url(#bl2)"/>
<rect x="532.15" y="659.05" width="14.50" height="5.50" rx="2.50" fill="#404040" fill-opacity="1.0" filter="url(#bl2)"/>
<rect x="532.40" y="665.95" width="14.00" height="4.50" rx="2.25" fill="#808080" fill-opacity="0.95" filter="url(#bl2)"/>
<rect x="547.45" y="659.05" width="14.50" height="5.50" rx="2.50" fill="#808080" fill-opacity="1.0" filter="url(#bl2)"/>
<rect x="547.70" y="665.95" width="14.00" height="4.50" rx="2.25" fill="#989898" fill-opacity="0.95" filter="url(#bl2)"/>
<rect x="467.50" y="654.80" width="97.20" height="19.60" fill="none" stroke="#282828" stroke-width="1.1"/>
<text x="571.70" y="547.50" font-size="9.45" text-anchor="start" fill="#222" >SOX2 (34 kDa)</text>
<text x="571.10" y="570.50" font-size="9.45" text-anchor="start" fill="#222" >pSMAD1 (58 kDa)</text>
<text x="570.80" y="597.40" font-size="9.45" text-anchor="start" fill="#222" >SMAD1 (60 kDa)</text>
<text x="572.60" y="624.20" font-size="9.45" text-anchor="start" fill="#222" >GAPDH (36 kDa)</text>
<text x="572.10" y="645.80" font-size="9.45" text-anchor="start" fill="#222" >ppERK1/2 (42-44 kDa)</text>
<text x="571.80" y="667.50" font-size="9.45" text-anchor="start" fill="#222" >ERK1/2 (42-44 kDa)</text>
<text x="339.50" y="691.80" font-size="14.2" text-anchor="start" fill="#000" font-weight="bold" >i</text>
<text x="362.90" y="696.50" font-size="9.4" text-anchor="start" fill="#222" >3 days in either:</text>
<line x1="362.00" y1="699.10" x2="565.60" y2="699.10" stroke="#333" stroke-width="1.3"/>
<text x="417.00" y="708.80" font-size="9.2" text-anchor="middle" fill="#222" >BMP/FGF</text>
<text x="518.40" y="708.80" font-size="9.2" text-anchor="middle" fill="#222" >BMP</text>
<line x1="363.50" y1="712.00" x2="461.70" y2="712.00" stroke="#333" stroke-width="1.3"/>
<line x1="467.40" y1="712.00" x2="565.60" y2="712.00" stroke="#333" stroke-width="1.3"/>
<text x="370.60" y="721.70" font-size="9.2" text-anchor="middle" fill="#222" >0</text>
<text x="387.70" y="721.70" font-size="9.2" text-anchor="middle" fill="#222" >5</text>
<text x="405.60" y="721.70" font-size="9.2" text-anchor="middle" fill="#222" >15</text>
<text x="422.70" y="721.70" font-size="9.2" text-anchor="middle" fill="#222" >30</text>
<text x="439.80" y="721.70" font-size="9.2" text-anchor="middle" fill="#222" >60</text>
<text x="457.40" y="721.70" font-size="9.2" text-anchor="middle" fill="#222" >180</text>
<text x="473.00" y="721.70" font-size="9.2" text-anchor="middle" fill="#222" >0</text>
<text x="489.60" y="721.70" font-size="9.2" text-anchor="middle" fill="#222" >5</text>
<text x="507.60" y="721.70" font-size="9.2" text-anchor="middle" fill="#222" >15</text>
<text x="524.60" y="721.70" font-size="9.2" text-anchor="middle" fill="#222" >30</text>
<text x="541.90" y="721.70" font-size="9.2" text-anchor="middle" fill="#222" >60</text>
<text x="559.40" y="721.70" font-size="9.2" text-anchor="middle" fill="#222" >180</text>
<text x="575.6" y="721.6" font-size="9.3" fill="#222">Time in EGF/FGF (<tspan font-style="italic">hrs</tspan>)</text>
<rect x="362.30" y="724.40" width="204.00" height="19.60" fill="#C8C8C8"/>
<rect x="363.00" y="732.05" width="14.00" height="5.50" rx="2.50" fill="#585858" fill-opacity="0.95" filter="url(#bl2)"/>
<rect x="381.20" y="732.05" width="14.00" height="5.50" rx="2.50" fill="#686868" fill-opacity="0.95" filter="url(#bl2)"/>
<rect x="397.60" y="732.05" width="14.00" height="5.50" rx="2.50" fill="#585858" fill-opacity="0.95" filter="url(#bl2)"/>
<rect x="414.90" y="731.80" width="14.00" height="6.00" rx="2.50" fill="#282828" fill-opacity="0.95" filter="url(#bl2)"/>
<rect x="431.30" y="731.80" width="14.00" height="6.00" rx="2.50" fill="#404040" fill-opacity="0.95" filter="url(#bl2)"/>
<rect x="448.20" y="731.30" width="14.00" height="7.00" rx="2.50" fill="#242424" fill-opacity="0.95" filter="url(#bl2)"/>
<rect x="465.80" y="731.80" width="14.00" height="6.00" rx="2.50" fill="#A8A8A8" fill-opacity="0.95" filter="url(#bl2)"/>
<rect x="483.10" y="731.80" width="14.00" height="6.00" rx="2.50" fill="#A8A8A8" fill-opacity="0.95" filter="url(#bl2)"/>
<rect x="500.00" y="731.80" width="14.00" height="6.00" rx="2.50" fill="#989898" fill-opacity="0.95" filter="url(#bl2)"/>
<rect x="516.80" y="731.80" width="14.00" height="6.00" rx="2.50" fill="#747474" fill-opacity="0.95" filter="url(#bl2)"/>
<rect x="533.70" y="731.55" width="14.00" height="6.50" rx="2.50" fill="#585858" fill-opacity="0.95" filter="url(#bl2)"/>
<rect x="550.60" y="731.80" width="14.00" height="6.00" rx="2.50" fill="#848484" fill-opacity="0.95" filter="url(#bl2)"/>
<rect x="378.2" y="724.4" width="2.6" height="19.6" fill="#E4E4E4" filter="url(#bl1)"/><rect x="395.2" y="724.4" width="2.6" height="19.6" fill="#E4E4E4" filter="url(#bl1)"/><rect x="412.0" y="724.4" width="2.6" height="19.6" fill="#E4E4E4" filter="url(#bl1)"/><rect x="428.9" y="724.4" width="2.6" height="19.6" fill="#E4E4E4" filter="url(#bl1)"/><rect x="445.7" y="724.4" width="2.6" height="19.6" fill="#E4E4E4" filter="url(#bl1)"/><rect x="462.5" y="724.4" width="2.6" height="19.6" fill="#E4E4E4" filter="url(#bl1)"/><rect x="480.1" y="724.4" width="2.6" height="19.6" fill="#E4E4E4" filter="url(#bl1)"/><rect x="497.2" y="724.4" width="2.6" height="19.6" fill="#E4E4E4" filter="url(#bl1)"/><rect x="514.1" y="724.4" width="2.6" height="19.6" fill="#E4E4E4" filter="url(#bl1)"/><rect x="530.9" y="724.4" width="2.6" height="19.6" fill="#E4E4E4" filter="url(#bl1)"/><rect x="547.8" y="724.4" width="2.6" height="19.6" fill="#E4E4E4" filter="url(#bl1)"/>
<rect x="362.30" y="724.40" width="204.00" height="19.60" fill="none" stroke="#282828" stroke-width="1.1"/>
<rect x="362.30" y="747.20" width="204.00" height="18.20" fill="#C6C6C6"/>
<rect x="362.75" y="751.10" width="14.50" height="3.00" rx="1.50" fill="#1E1E1E" fill-opacity="0.95" filter="url(#bl1)"/>
<rect x="362.75" y="756.90" width="14.50" height="3.40" rx="1.70" fill="#151515" fill-opacity="0.95" filter="url(#bl1)"/>
<rect x="380.95" y="751.10" width="14.50" height="3.00" rx="1.50" fill="#1E1E1E" fill-opacity="0.95" filter="url(#bl1)"/>
<rect x="380.95" y="756.90" width="14.50" height="3.40" rx="1.70" fill="#151515" fill-opacity="0.95" filter="url(#bl1)"/>
<rect x="397.35" y="751.10" width="14.50" height="3.00" rx="1.50" fill="#1E1E1E" fill-opacity="0.95" filter="url(#bl1)"/>
<rect x="397.35" y="756.90" width="14.50" height="3.40" rx="1.70" fill="#151515" fill-opacity="0.95" filter="url(#bl1)"/>
<rect x="414.65" y="751.10" width="14.50" height="3.00" rx="1.50" fill="#1E1E1E" fill-opacity="0.95" filter="url(#bl1)"/>
<rect x="414.65" y="756.90" width="14.50" height="3.40" rx="1.70" fill="#151515" fill-opacity="0.95" filter="url(#bl1)"/>
<rect x="431.05" y="751.10" width="14.50" height="3.00" rx="1.50" fill="#1E1E1E" fill-opacity="0.95" filter="url(#bl1)"/>
<rect x="431.05" y="756.90" width="14.50" height="3.40" rx="1.70" fill="#151515" fill-opacity="0.95" filter="url(#bl1)"/>
<rect x="447.95" y="751.10" width="14.50" height="3.00" rx="1.50" fill="#1E1E1E" fill-opacity="0.95" filter="url(#bl1)"/>
<rect x="447.95" y="756.90" width="14.50" height="3.40" rx="1.70" fill="#151515" fill-opacity="0.95" filter="url(#bl1)"/>
<rect x="465.55" y="751.10" width="14.50" height="3.00" rx="1.50" fill="#1E1E1E" fill-opacity="0.95" filter="url(#bl1)"/>
<rect x="465.55" y="756.90" width="14.50" height="3.40" rx="1.70" fill="#151515" fill-opacity="0.95" filter="url(#bl1)"/>
<rect x="482.85" y="751.10" width="14.50" height="3.00" rx="1.50" fill="#1E1E1E" fill-opacity="0.95" filter="url(#bl1)"/>
<rect x="482.85" y="756.90" width="14.50" height="3.40" rx="1.70" fill="#151515" fill-opacity="0.95" filter="url(#bl1)"/>
<rect x="499.75" y="751.10" width="14.50" height="3.00" rx="1.50" fill="#1E1E1E" fill-opacity="0.95" filter="url(#bl1)"/>
<rect x="499.75" y="756.90" width="14.50" height="3.40" rx="1.70" fill="#151515" fill-opacity="0.95" filter="url(#bl1)"/>
<rect x="516.55" y="751.10" width="14.50" height="3.00" rx="1.50" fill="#1E1E1E" fill-opacity="0.95" filter="url(#bl1)"/>
<rect x="516.55" y="756.90" width="14.50" height="3.40" rx="1.70" fill="#151515" fill-opacity="0.95" filter="url(#bl1)"/>
<rect x="533.45" y="751.10" width="14.50" height="3.00" rx="1.50" fill="#1E1E1E" fill-opacity="0.95" filter="url(#bl1)"/>
<rect x="533.45" y="756.90" width="14.50" height="3.40" rx="1.70" fill="#151515" fill-opacity="0.95" filter="url(#bl1)"/>
<rect x="550.35" y="751.10" width="14.50" height="3.00" rx="1.50" fill="#1E1E1E" fill-opacity="0.95" filter="url(#bl1)"/>
<rect x="550.35" y="756.90" width="14.50" height="3.40" rx="1.70" fill="#151515" fill-opacity="0.95" filter="url(#bl1)"/>
<rect x="362.30" y="747.20" width="204.00" height="18.20" fill="none" stroke="#282828" stroke-width="1.1"/>
<text x="579.70" y="739.40" font-size="9.3" text-anchor="start" fill="#222" >LRIG1 (140 kDa)</text>
<text x="579.70" y="759.40" font-size="9.3" text-anchor="start" fill="#222" >ERK1/2 (42-44 kDa)</text>
</svg>
</body></html>
